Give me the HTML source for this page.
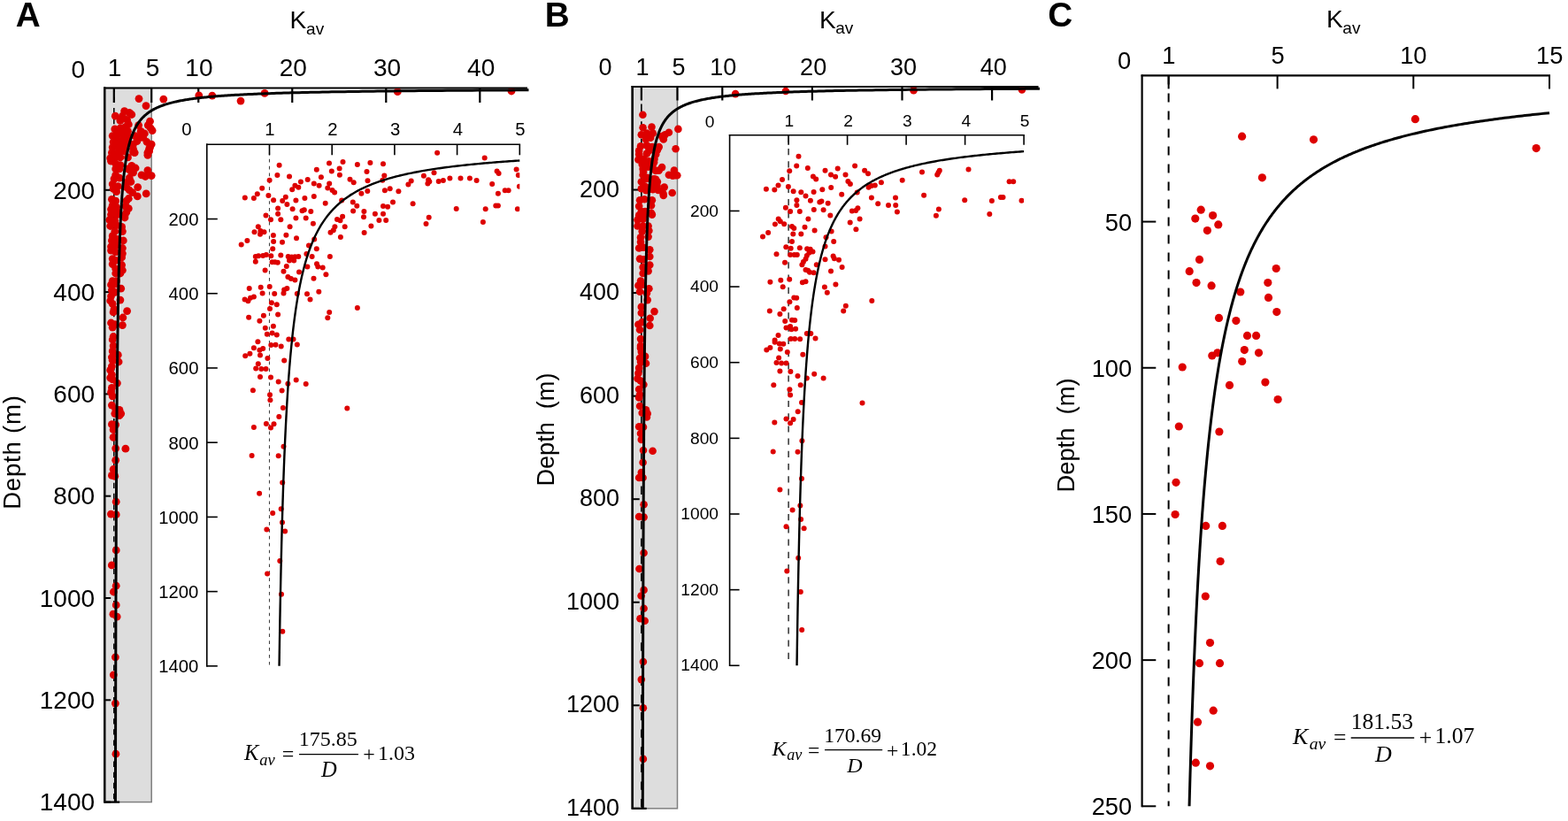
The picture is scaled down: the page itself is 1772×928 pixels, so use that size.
<!DOCTYPE html>
<html><head><meta charset="utf-8"><title>Kav vs depth</title>
<style>html,body{margin:0;padding:0;background:#fff;} svg{display:block;}</style>
</head><body>
<svg width="1772" height="928" viewBox="0 0 1772 928">
<rect width="1772" height="928" fill="#fff"/>
<rect x="118.2" y="99.5" width="53.02" height="807.1" fill="#dddddd" stroke="#7f7f7f" stroke-width="1.5"/>
<line x1="128.8" y1="99.5" x2="128.8" y2="906.6" stroke="#000" stroke-width="1.5" stroke-dasharray="6.3,5.81" stroke-dashoffset="1.82"/>
<line x1="128.8" y1="99.5" x2="128.8" y2="116" stroke="#000" stroke-width="2.2" />
<line x1="171.22" y1="99.5" x2="171.22" y2="116" stroke="#000" stroke-width="2.2" />
<line x1="224.23" y1="99.5" x2="224.23" y2="116" stroke="#000" stroke-width="2.2" />
<line x1="330.26" y1="99.5" x2="330.26" y2="116" stroke="#000" stroke-width="2.2" />
<line x1="436.29" y1="99.5" x2="436.29" y2="116" stroke="#000" stroke-width="2.2" />
<line x1="542.32" y1="99.5" x2="542.32" y2="116" stroke="#000" stroke-width="2.2" />
<line x1="118.2" y1="214.8" x2="125.2" y2="214.8" stroke="#000" stroke-width="2" />
<line x1="118.2" y1="330.1" x2="125.2" y2="330.1" stroke="#000" stroke-width="2" />
<line x1="118.2" y1="445.4" x2="125.2" y2="445.4" stroke="#000" stroke-width="2" />
<line x1="118.2" y1="560.7" x2="125.2" y2="560.7" stroke="#000" stroke-width="2" />
<line x1="118.2" y1="676" x2="125.2" y2="676" stroke="#000" stroke-width="2" />
<line x1="118.2" y1="791.3" x2="125.2" y2="791.3" stroke="#000" stroke-width="2" />
<line x1="118.2" y1="906.6" x2="125.2" y2="906.6" stroke="#000" stroke-width="2" />
<line x1="117.2" y1="99.5" x2="596" y2="99.5" stroke="#000" stroke-width="2.2" />
<line x1="118.2" y1="98.5" x2="118.2" y2="907.6" stroke="#000" stroke-width="2.2" />
<line x1="118.2" y1="906.6" x2="135.2" y2="906.6" stroke="#000" stroke-width="2.2" />
<rect x="714.7" y="98" width="50.8" height="815.85" fill="#dddddd" stroke="#7f7f7f" stroke-width="1.5"/>
<line x1="724.86" y1="98" x2="724.86" y2="913.85" stroke="#000" stroke-width="1.6" stroke-dasharray="9.3,10.34" stroke-dashoffset="0.14"/>
<line x1="724.86" y1="98" x2="724.86" y2="113.5" stroke="#000" stroke-width="2.2" />
<line x1="765.5" y1="98" x2="765.5" y2="113.5" stroke="#000" stroke-width="2.2" />
<line x1="816.3" y1="98" x2="816.3" y2="113.5" stroke="#000" stroke-width="2.2" />
<line x1="917.9" y1="98" x2="917.9" y2="113.5" stroke="#000" stroke-width="2.2" />
<line x1="1019.5" y1="98" x2="1019.5" y2="113.5" stroke="#000" stroke-width="2.2" />
<line x1="1121.1" y1="98" x2="1121.1" y2="113.5" stroke="#000" stroke-width="2.2" />
<line x1="714.7" y1="214.55" x2="722.7" y2="214.55" stroke="#000" stroke-width="2" />
<line x1="714.7" y1="331.1" x2="722.7" y2="331.1" stroke="#000" stroke-width="2" />
<line x1="714.7" y1="447.65" x2="722.7" y2="447.65" stroke="#000" stroke-width="2" />
<line x1="714.7" y1="564.2" x2="722.7" y2="564.2" stroke="#000" stroke-width="2" />
<line x1="714.7" y1="680.75" x2="722.7" y2="680.75" stroke="#000" stroke-width="2" />
<line x1="714.7" y1="797.3" x2="722.7" y2="797.3" stroke="#000" stroke-width="2" />
<line x1="714.7" y1="913.85" x2="722.7" y2="913.85" stroke="#000" stroke-width="2" />
<line x1="713.7" y1="98" x2="1173.5" y2="98" stroke="#000" stroke-width="2.2" />
<line x1="714.7" y1="97" x2="714.7" y2="914.85" stroke="#000" stroke-width="2.2" />
<line x1="714.7" y1="913.85" x2="730.7" y2="913.85" stroke="#000" stroke-width="2.2" />
<defs><clipPath id="ca"><rect x="118" y="100.3" width="480" height="807"/></clipPath><clipPath id="cb"><rect x="714" y="98.8" width="460" height="815"/></clipPath></defs>
<g fill="#dd0000" clip-path="url(#ca)">
<circle cx="184.8" cy="112.1" r="4.4"/>
<circle cx="224.8" cy="107.9" r="4.4"/>
<circle cx="239.8" cy="108.1" r="4.4"/>
<circle cx="272" cy="114.1" r="4.4"/>
<circle cx="299.1" cy="105.4" r="4.4"/>
<circle cx="165" cy="119.6" r="4.4"/>
<circle cx="449.3" cy="103.7" r="4.4"/>
<circle cx="578" cy="103" r="4.4"/>
<circle cx="157" cy="111.6" r="4.4"/>
<circle cx="130.3" cy="131.2" r="4.4"/>
<circle cx="140.6" cy="125.6" r="4.4"/>
<circle cx="146.2" cy="127.3" r="4.4"/>
<circle cx="148.8" cy="129.5" r="4.4"/>
<circle cx="138.4" cy="131.2" r="4.4"/>
<circle cx="135.9" cy="136.4" r="4.4"/>
<circle cx="143.6" cy="135.5" r="4.4"/>
<circle cx="145.3" cy="140.7" r="4.4"/>
<circle cx="129.8" cy="145.9" r="4.4"/>
<circle cx="135.9" cy="145" r="4.4"/>
<circle cx="141.9" cy="143.3" r="4.4"/>
<circle cx="127.2" cy="153.6" r="4.4"/>
<circle cx="133.3" cy="151.9" r="4.4"/>
<circle cx="139.3" cy="150.2" r="4.4"/>
<circle cx="144.5" cy="148.4" r="4.4"/>
<circle cx="133.3" cy="158.8" r="4.4"/>
<circle cx="139.3" cy="157.1" r="4.4"/>
<circle cx="128.1" cy="160.5" r="4.4"/>
<circle cx="127.2" cy="166.6" r="4.4"/>
<circle cx="133.3" cy="165.7" r="4.4"/>
<circle cx="139.3" cy="164" r="4.4"/>
<circle cx="143.6" cy="161.4" r="4.4"/>
<circle cx="126.4" cy="172.6" r="4.4"/>
<circle cx="133.3" cy="172.6" r="4.4"/>
<circle cx="140.2" cy="170.9" r="4.4"/>
<circle cx="156.6" cy="141.6" r="4.4"/>
<circle cx="159.1" cy="148.4" r="4.4"/>
<circle cx="163.4" cy="151" r="4.4"/>
<circle cx="161.7" cy="155.3" r="4.4"/>
<circle cx="169.5" cy="137.2" r="4.4"/>
<circle cx="167.3" cy="141.6" r="4.4"/>
<circle cx="172.1" cy="147.6" r="4.4"/>
<circle cx="170.3" cy="145" r="4.4"/>
<circle cx="158.3" cy="155.3" r="4.4"/>
<circle cx="154.8" cy="159.7" r="4.4"/>
<circle cx="150.5" cy="163.1" r="4.4"/>
<circle cx="150.5" cy="168.3" r="4.4"/>
<circle cx="152.2" cy="172.6" r="4.4"/>
<circle cx="166" cy="160.5" r="4.4"/>
<circle cx="171.2" cy="163.1" r="4.4"/>
<circle cx="168.6" cy="168.3" r="4.4"/>
<circle cx="166.9" cy="172.6" r="4.4"/>
<circle cx="134.1" cy="167.6" r="4.4"/>
<circle cx="140.2" cy="167.6" r="4.4"/>
<circle cx="150.5" cy="171.9" r="4.4"/>
<circle cx="169.5" cy="166.7" r="4.4"/>
<circle cx="168.6" cy="171" r="4.4"/>
<circle cx="166.9" cy="175.3" r="4.4"/>
<circle cx="124.7" cy="178.8" r="4.4"/>
<circle cx="129.8" cy="177.9" r="4.4"/>
<circle cx="135.9" cy="177.9" r="4.4"/>
<circle cx="144.5" cy="177.9" r="4.4"/>
<circle cx="125.5" cy="182.2" r="4.4"/>
<circle cx="130.7" cy="184.8" r="4.4"/>
<circle cx="135.9" cy="186.6" r="4.4"/>
<circle cx="130.7" cy="190.9" r="4.4"/>
<circle cx="135" cy="190.9" r="4.4"/>
<circle cx="148.8" cy="187.4" r="4.4"/>
<circle cx="153.1" cy="190" r="4.4"/>
<circle cx="147.9" cy="193.4" r="4.4"/>
<circle cx="144.5" cy="190.9" r="4.4"/>
<circle cx="150.5" cy="195.2" r="4.4"/>
<circle cx="160" cy="197.8" r="4.4"/>
<circle cx="166.9" cy="192.6" r="4.4"/>
<circle cx="171.2" cy="198.6" r="4.4"/>
<circle cx="164.3" cy="199.5" r="4.4"/>
<circle cx="130.7" cy="197.8" r="4.4"/>
<circle cx="129" cy="202.1" r="4.4"/>
<circle cx="135" cy="201.2" r="4.4"/>
<circle cx="146.2" cy="201.2" r="4.4"/>
<circle cx="147.9" cy="205.5" r="4.4"/>
<circle cx="142.8" cy="206.4" r="4.4"/>
<circle cx="127.2" cy="208.1" r="4.4"/>
<circle cx="128.1" cy="213.3" r="4.4"/>
<circle cx="133.3" cy="210.7" r="4.4"/>
<circle cx="131.6" cy="216.7" r="4.4"/>
<circle cx="142.8" cy="211.6" r="4.4"/>
<circle cx="146.2" cy="215" r="4.4"/>
<circle cx="149.7" cy="217.6" r="4.4"/>
<circle cx="155.7" cy="211.6" r="4.4"/>
<circle cx="165.2" cy="218.9" r="4.4"/>
<circle cx="155.3" cy="221.9" r="4.4"/>
<circle cx="145.3" cy="224.5" r="4.4"/>
<circle cx="142.8" cy="227.1" r="4.4"/>
<circle cx="126.4" cy="225.3" r="4.4"/>
<circle cx="130.7" cy="227.1" r="4.4"/>
<circle cx="127.2" cy="232.2" r="4.4"/>
<circle cx="125.5" cy="236.6" r="4.4"/>
<circle cx="131.6" cy="234" r="4.4"/>
<circle cx="132.4" cy="239.1" r="4.4"/>
<circle cx="141.9" cy="233.1" r="4.4"/>
<circle cx="145.3" cy="235.7" r="4.4"/>
<circle cx="142.8" cy="240" r="4.4"/>
<circle cx="125.5" cy="242.6" r="4.4"/>
<circle cx="141" cy="243.4" r="4.4"/>
<circle cx="132.4" cy="242.6" r="4.4"/>
<circle cx="141" cy="246" r="4.4"/>
<circle cx="123.8" cy="248.6" r="4.4"/>
<circle cx="129.8" cy="249.5" r="4.4"/>
<circle cx="124.7" cy="255.5" r="4.4"/>
<circle cx="131.6" cy="254.7" r="4.4"/>
<circle cx="137.6" cy="256.4" r="4.4"/>
<circle cx="138.4" cy="261.6" r="4.4"/>
<circle cx="129.8" cy="261.6" r="4.4"/>
<circle cx="127.2" cy="266.7" r="4.4"/>
<circle cx="126.4" cy="271.9" r="4.4"/>
<circle cx="131.6" cy="270.2" r="4.4"/>
<circle cx="139.3" cy="271.9" r="4.4"/>
<circle cx="125.5" cy="278.8" r="4.4"/>
<circle cx="131.6" cy="277.1" r="4.4"/>
<circle cx="138.4" cy="280.5" r="4.4"/>
<circle cx="125.5" cy="283.1" r="4.4"/>
<circle cx="130.7" cy="284.8" r="4.4"/>
<circle cx="138.4" cy="286.6" r="4.4"/>
<circle cx="137.6" cy="290.9" r="4.4"/>
<circle cx="127.2" cy="292.6" r="4.4"/>
<circle cx="130.7" cy="294.3" r="4.4"/>
<circle cx="127.2" cy="298.6" r="4.4"/>
<circle cx="137.6" cy="299.5" r="4.4"/>
<circle cx="138.4" cy="305.5" r="4.4"/>
<circle cx="130.7" cy="303.8" r="4.4"/>
<circle cx="130.7" cy="309" r="4.4"/>
<circle cx="135.9" cy="309" r="4.4"/>
<circle cx="127.2" cy="317.6" r="4.4"/>
<circle cx="131.6" cy="317.6" r="4.4"/>
<circle cx="125.5" cy="321.9" r="4.4"/>
<circle cx="130.7" cy="321" r="4.4"/>
<circle cx="136.7" cy="326.2" r="4.4"/>
<circle cx="126.4" cy="327.9" r="4.4"/>
<circle cx="129.8" cy="330.5" r="4.4"/>
<circle cx="125.5" cy="334.8" r="4.4"/>
<circle cx="124.7" cy="340" r="4.4"/>
<circle cx="135.9" cy="339.1" r="4.4"/>
<circle cx="127.2" cy="343.4" r="4.4"/>
<circle cx="129" cy="349.5" r="4.4"/>
<circle cx="128.1" cy="352.9" r="4.4"/>
<circle cx="143.6" cy="351.6" r="4.4"/>
<circle cx="138.9" cy="359" r="4.4"/>
<circle cx="138.4" cy="367.6" r="4.4"/>
<circle cx="125.5" cy="365" r="4.4"/>
<circle cx="127.2" cy="370.2" r="4.4"/>
<circle cx="129.8" cy="366.7" r="4.4"/>
<circle cx="128.1" cy="380.5" r="4.4"/>
<circle cx="127.2" cy="384" r="4.4"/>
<circle cx="128.1" cy="390.9" r="4.4"/>
<circle cx="127.2" cy="396.9" r="4.4"/>
<circle cx="133.3" cy="401.2" r="4.4"/>
<circle cx="126.4" cy="403.8" r="4.4"/>
<circle cx="134.1" cy="409" r="4.4"/>
<circle cx="127.2" cy="407.2" r="4.4"/>
<circle cx="126.4" cy="414.1" r="4.4"/>
<circle cx="124.7" cy="418.4" r="4.4"/>
<circle cx="126.4" cy="423.6" r="4.4"/>
<circle cx="124.7" cy="427.1" r="4.4"/>
<circle cx="127.2" cy="428.8" r="4.4"/>
<circle cx="132.4" cy="433.1" r="4.4"/>
<circle cx="126.4" cy="438.3" r="4.4"/>
<circle cx="125.5" cy="443.4" r="4.4"/>
<circle cx="127.2" cy="447.8" r="4.4"/>
<circle cx="126.4" cy="458.1" r="4.4"/>
<circle cx="130.7" cy="462.4" r="4.4"/>
<circle cx="135" cy="463.3" r="4.4"/>
<circle cx="136.7" cy="467.6" r="4.4"/>
<circle cx="129.8" cy="467.6" r="4.4"/>
<circle cx="135" cy="469.7" r="4.4"/>
<circle cx="126.4" cy="479.7" r="4.4"/>
<circle cx="130.7" cy="480.1" r="4.4"/>
<circle cx="128.1" cy="485.7" r="4.4"/>
<circle cx="128.1" cy="494.3" r="4.4"/>
<circle cx="130.7" cy="506.8" r="4.4"/>
<circle cx="141.9" cy="507.2" r="4.4"/>
<circle cx="130.7" cy="520.2" r="4.4"/>
<circle cx="128.1" cy="530.5" r="4.4"/>
<circle cx="126.4" cy="537.4" r="4.4"/>
<circle cx="129.8" cy="538.3" r="4.4"/>
<circle cx="131.2" cy="567.2" r="4.4"/>
<circle cx="125.4" cy="581.1" r="4.4"/>
<circle cx="131.2" cy="581.7" r="4.4"/>
<circle cx="131.2" cy="621.9" r="4.4"/>
<circle cx="126.3" cy="638.9" r="4.4"/>
<circle cx="131.2" cy="662.2" r="4.4"/>
<circle cx="128.3" cy="669" r="4.4"/>
<circle cx="131.2" cy="683.9" r="4.4"/>
<circle cx="127.9" cy="694.2" r="4.4"/>
<circle cx="132.2" cy="697.1" r="4.4"/>
<circle cx="130.4" cy="742.8" r="4.4"/>
<circle cx="128.3" cy="762.8" r="4.4"/>
<circle cx="130.4" cy="795.1" r="4.4"/>
<circle cx="130.9" cy="852.2" r="4.4"/>
<circle cx="144.5" cy="153.9" r="4.4"/>
<circle cx="152.6" cy="153.6" r="4.4"/>
</g>
<g fill="#dd0000" clip-path="url(#cb)">
<circle cx="831.1" cy="106.1" r="4.3"/>
<circle cx="887.9" cy="103" r="4.3"/>
<circle cx="1032.5" cy="102.3" r="4.3"/>
<circle cx="1154.9" cy="101.4" r="4.3"/>
<circle cx="726.4" cy="129.8" r="4.3"/>
<circle cx="726.6" cy="144.2" r="4.3"/>
<circle cx="736.5" cy="143.6" r="4.3"/>
<circle cx="724.8" cy="152.3" r="4.3"/>
<circle cx="730.9" cy="150.6" r="4.3"/>
<circle cx="737.8" cy="150.6" r="4.3"/>
<circle cx="730" cy="157.5" r="4.3"/>
<circle cx="735.2" cy="155.8" r="4.3"/>
<circle cx="749.8" cy="157.5" r="4.3"/>
<circle cx="751.6" cy="152.3" r="4.3"/>
<circle cx="755.9" cy="149.8" r="4.3"/>
<circle cx="748.1" cy="154.1" r="4.3"/>
<circle cx="766.4" cy="145.9" r="4.3"/>
<circle cx="724" cy="165.3" r="4.3"/>
<circle cx="730.9" cy="164.4" r="4.3"/>
<circle cx="736.9" cy="166.1" r="4.3"/>
<circle cx="744.7" cy="166.1" r="4.3"/>
<circle cx="742.9" cy="169.6" r="4.3"/>
<circle cx="763.6" cy="168.3" r="4.3"/>
<circle cx="722.2" cy="170.4" r="4.3"/>
<circle cx="733.4" cy="170.4" r="4.3"/>
<circle cx="733.4" cy="166.7" r="4.3"/>
<circle cx="722.2" cy="174.5" r="4.3"/>
<circle cx="730.9" cy="173.6" r="4.3"/>
<circle cx="741.2" cy="174.5" r="4.3"/>
<circle cx="721.4" cy="180.5" r="4.3"/>
<circle cx="727.4" cy="179.7" r="4.3"/>
<circle cx="739.5" cy="179.7" r="4.3"/>
<circle cx="725.7" cy="185.7" r="4.3"/>
<circle cx="737.8" cy="185.7" r="4.3"/>
<circle cx="726.6" cy="190.9" r="4.3"/>
<circle cx="744.7" cy="192.6" r="4.3"/>
<circle cx="748.1" cy="189.1" r="4.3"/>
<circle cx="755.9" cy="197.8" r="4.3"/>
<circle cx="761.9" cy="192.6" r="4.3"/>
<circle cx="765.3" cy="198.2" r="4.3"/>
<circle cx="760.2" cy="198.6" r="4.3"/>
<circle cx="726.6" cy="197.8" r="4.3"/>
<circle cx="724.8" cy="205.5" r="4.3"/>
<circle cx="730" cy="202.1" r="4.3"/>
<circle cx="741.2" cy="202.9" r="4.3"/>
<circle cx="742.9" cy="205.5" r="4.3"/>
<circle cx="724.8" cy="213.3" r="4.3"/>
<circle cx="730" cy="211.6" r="4.3"/>
<circle cx="737.8" cy="214.1" r="4.3"/>
<circle cx="743.8" cy="215" r="4.3"/>
<circle cx="750.7" cy="211.6" r="4.3"/>
<circle cx="749.8" cy="221" r="4.3"/>
<circle cx="759.7" cy="218" r="4.3"/>
<circle cx="723.1" cy="226.2" r="4.3"/>
<circle cx="728.3" cy="225.3" r="4.3"/>
<circle cx="736.9" cy="226.2" r="4.3"/>
<circle cx="736" cy="232.2" r="4.3"/>
<circle cx="722.2" cy="233.1" r="4.3"/>
<circle cx="724.8" cy="239.1" r="4.3"/>
<circle cx="729.1" cy="239.1" r="4.3"/>
<circle cx="736" cy="240.9" r="4.3"/>
<circle cx="722.2" cy="243.4" r="4.3"/>
<circle cx="729.1" cy="242.6" r="4.3"/>
<circle cx="736.9" cy="242.6" r="4.3"/>
<circle cx="720.5" cy="248.6" r="4.3"/>
<circle cx="726.6" cy="247.8" r="4.3"/>
<circle cx="720.5" cy="255.5" r="4.3"/>
<circle cx="726.6" cy="255.5" r="4.3"/>
<circle cx="732.6" cy="255.5" r="4.3"/>
<circle cx="733.4" cy="260.7" r="4.3"/>
<circle cx="725.7" cy="261.6" r="4.3"/>
<circle cx="724" cy="268.4" r="4.3"/>
<circle cx="732.6" cy="267.6" r="4.3"/>
<circle cx="724" cy="273.6" r="4.3"/>
<circle cx="722.2" cy="280.5" r="4.3"/>
<circle cx="727.4" cy="279.7" r="4.3"/>
<circle cx="734.3" cy="282.2" r="4.3"/>
<circle cx="734.3" cy="290" r="4.3"/>
<circle cx="723.1" cy="292.6" r="4.3"/>
<circle cx="727.4" cy="293.4" r="4.3"/>
<circle cx="734.3" cy="299.5" r="4.3"/>
<circle cx="726.6" cy="302.1" r="4.3"/>
<circle cx="732.6" cy="306.4" r="4.3"/>
<circle cx="726.6" cy="309" r="4.3"/>
<circle cx="724" cy="317.6" r="4.3"/>
<circle cx="721.4" cy="322.8" r="4.3"/>
<circle cx="725.7" cy="321.9" r="4.3"/>
<circle cx="733.4" cy="326.2" r="4.3"/>
<circle cx="723.1" cy="329.7" r="4.3"/>
<circle cx="730.9" cy="331.4" r="4.3"/>
<circle cx="731.7" cy="339.1" r="4.3"/>
<circle cx="724.8" cy="346.9" r="4.3"/>
<circle cx="724.8" cy="353.8" r="4.3"/>
<circle cx="739.5" cy="352.1" r="4.3"/>
<circle cx="734.7" cy="359.8" r="4.3"/>
<circle cx="734.3" cy="368" r="4.3"/>
<circle cx="721.4" cy="366.7" r="4.3"/>
<circle cx="725.7" cy="364.1" r="4.3"/>
<circle cx="723.1" cy="372.8" r="4.3"/>
<circle cx="724" cy="383.1" r="4.3"/>
<circle cx="724" cy="390.9" r="4.3"/>
<circle cx="724" cy="393.4" r="4.3"/>
<circle cx="724.8" cy="397.8" r="4.3"/>
<circle cx="729.1" cy="402.9" r="4.3"/>
<circle cx="723.1" cy="404.7" r="4.3"/>
<circle cx="730" cy="410.7" r="4.3"/>
<circle cx="724" cy="409" r="4.3"/>
<circle cx="722.2" cy="415.9" r="4.3"/>
<circle cx="721.4" cy="421.9" r="4.3"/>
<circle cx="720.5" cy="427.9" r="4.3"/>
<circle cx="724" cy="430.5" r="4.3"/>
<circle cx="727.4" cy="434.8" r="4.3"/>
<circle cx="722.2" cy="440" r="4.3"/>
<circle cx="723.1" cy="446" r="4.3"/>
<circle cx="722.2" cy="449.5" r="4.3"/>
<circle cx="723.1" cy="459" r="4.3"/>
<circle cx="730" cy="463.3" r="4.3"/>
<circle cx="725.7" cy="466.7" r="4.3"/>
<circle cx="731.7" cy="467.6" r="4.3"/>
<circle cx="730.9" cy="471.5" r="4.3"/>
<circle cx="722.2" cy="482.2" r="4.3"/>
<circle cx="727" cy="482.7" r="4.3"/>
<circle cx="724" cy="490" r="4.3"/>
<circle cx="724.8" cy="496.9" r="4.3"/>
<circle cx="727" cy="509" r="4.3"/>
<circle cx="737.6" cy="509.7" r="4.3"/>
<circle cx="726.6" cy="522.8" r="4.3"/>
<circle cx="724.8" cy="534" r="4.3"/>
<circle cx="722.2" cy="540" r="4.3"/>
<circle cx="726.6" cy="540" r="4.3"/>
<circle cx="727.6" cy="570.3" r="4.3"/>
<circle cx="722.1" cy="584" r="4.3"/>
<circle cx="727.6" cy="584.6" r="4.3"/>
<circle cx="727.6" cy="625" r="4.3"/>
<circle cx="722.5" cy="643" r="4.3"/>
<circle cx="727.6" cy="666.9" r="4.3"/>
<circle cx="724.6" cy="673.5" r="4.3"/>
<circle cx="727.6" cy="687.8" r="4.3"/>
<circle cx="723.5" cy="699.3" r="4.3"/>
<circle cx="728.7" cy="701.7" r="4.3"/>
<circle cx="726.9" cy="748" r="4.3"/>
<circle cx="724.8" cy="768.1" r="4.3"/>
<circle cx="726.9" cy="800.2" r="4.3"/>
<circle cx="726.9" cy="857.9" r="4.3"/>
<circle cx="727.9" cy="182.2" r="4.3"/>
<circle cx="733.1" cy="182.2" r="4.3"/>
<circle cx="739.1" cy="183.4" r="4.3"/>
<circle cx="727.9" cy="188.6" r="4.3"/>
<circle cx="732.2" cy="188.6" r="4.3"/>
<circle cx="737.4" cy="189.5" r="4.3"/>
<circle cx="727.1" cy="194.2" r="4.3"/>
<circle cx="740.9" cy="192.9" r="4.3"/>
<circle cx="731.4" cy="200.7" r="4.3"/>
<circle cx="739.1" cy="202.4" r="4.3"/>
<circle cx="727.9" cy="210.2" r="4.3"/>
<circle cx="737.4" cy="208" r="4.3"/>
<circle cx="742.6" cy="210.2" r="4.3"/>
<circle cx="730.1" cy="215.3" r="4.3"/>
<circle cx="749.5" cy="218.8" r="4.3"/>
<circle cx="763.3" cy="198.1" r="4.3"/>
</g>
<line x1="118.2" y1="98.5" x2="118.2" y2="907.6" stroke="#000" stroke-width="2.2" />
<line x1="714.7" y1="97" x2="714.7" y2="914.85" stroke="#000" stroke-width="2.2" />
<path d="M597.46,101.8 L590.64,101.83 L583.93,101.86 L577.31,101.9 L570.79,101.93 L564.36,101.97 L558.03,102.01 L551.79,102.04 L545.64,102.08 L539.58,102.12 L533.61,102.16 L527.72,102.2 L521.92,102.24 L516.21,102.28 L510.58,102.32 L505.03,102.36 L499.56,102.4 L494.17,102.44 L488.85,102.49 L483.62,102.53 L478.46,102.58 L473.38,102.62 L468.37,102.67 L463.44,102.72 L458.57,102.76 L453.78,102.81 L449.05,102.86 L444.4,102.91 L439.81,102.96 L435.29,103.01 L430.84,103.06 L426.45,103.12 L422.12,103.17 L417.86,103.22 L413.66,103.28 L409.52,103.33 L405.44,103.39 L401.42,103.45 L397.45,103.51 L393.55,103.56 L389.7,103.63 L385.91,103.69 L382.18,103.75 L378.49,103.81 L374.87,103.87 L371.29,103.94 L367.77,104 L364.29,104.07 L360.87,104.14 L357.5,104.21 L354.18,104.28 L350.9,104.35 L347.68,104.42 L344.5,104.49 L341.36,104.56 L338.27,104.64 L335.23,104.72 L332.23,104.79 L329.28,104.87 L326.37,104.95 L323.5,105.03 L320.67,105.11 L317.88,105.19 L315.13,105.28 L312.43,105.36 L309.76,105.45 L307.13,105.54 L304.54,105.63 L301.99,105.72 L299.47,105.81 L297,105.9 L294.55,106 L292.15,106.09 L289.77,106.19 L287.44,106.29 L285.13,106.39 L282.86,106.49 L280.63,106.59 L278.42,106.7 L276.25,106.81 L274.11,106.91 L272,107.02 L269.92,107.13 L267.87,107.25 L265.85,107.36 L263.86,107.48 L261.9,107.6 L259.97,107.71 L258.07,107.84 L256.19,107.96 L254.34,108.08 L252.52,108.21 L250.73,108.34 L248.96,108.47 L247.21,108.6 L245.49,108.74 L243.8,108.87 L242.13,109.01 L240.49,109.15 L238.87,109.29 L237.27,109.44 L235.7,109.59 L234.15,109.73 L232.62,109.89 L231.11,110.04 L229.63,110.19 L228.17,110.35 L226.73,110.51 L225.31,110.68 L223.91,110.84 L222.53,111.01 L221.17,111.18 L219.83,111.35 L218.51,111.53 L217.21,111.7 L215.93,111.88 L214.66,112.07 L213.42,112.25 L212.19,112.44 L210.98,112.63 L209.79,112.82 L208.62,113.02 L207.46,113.22 L206.32,113.42 L205.2,113.63 L204.09,113.84 L203,114.05 L201.93,114.26 L200.87,114.48 L199.82,114.7 L198.79,114.93 L197.78,115.16 L196.78,115.39 L195.8,115.62 L194.83,115.86 L193.87,116.1 L192.93,116.35 L192,116.59 L191.09,116.85 L190.18,117.1 L189.3,117.36 L188.42,117.63 L187.56,117.89 L186.71,118.17 L185.87,118.44 L185.04,118.72 L184.23,119 L183.43,119.29 L182.64,119.59 L181.86,119.88 L181.09,120.18 L180.34,120.49 L179.59,120.8 L178.86,121.11 L178.13,121.43 L177.42,121.76 L176.72,122.08 L176.02,122.42 L175.34,122.76 L174.67,123.1 L174.01,123.45 L173.35,123.8 L172.71,124.16 L172.08,124.52 L171.45,124.89 L170.84,125.27 L170.23,125.65 L169.63,126.03 L169.04,126.43 L168.46,126.82 L167.89,127.23 L167.32,127.64 L166.77,128.05 L166.22,128.47 L165.68,128.9 L165.15,129.34 L164.62,129.78 L164.11,130.22 L163.6,130.68 L163.1,131.14 L162.6,131.6 L162.12,132.08 L161.64,132.56 L161.16,133.05 L160.7,133.54 L160.24,134.05 L159.78,134.56 L159.34,135.07 L158.9,135.6 L158.46,136.13 L158.04,136.67 L157.62,137.22 L157.2,137.78 L156.79,138.34 L156.39,138.92 L155.99,139.5 L155.6,140.09 L155.22,140.69 L154.84,141.3 L154.46,141.91 L154.1,142.54 L153.73,143.18 L153.37,143.82 L153.02,144.47 L152.67,145.14 L152.33,145.81 L151.99,146.5 L151.66,147.19 L151.33,147.89 L151.01,148.61 L150.69,149.33 L150.38,150.07 L150.07,150.82 L149.76,151.57 L149.46,152.34 L149.17,153.12 L148.88,153.91 L148.59,154.72 L148.3,155.53 L148.03,156.36 L147.75,157.2 L147.48,158.05 L147.21,158.92 L146.95,159.79 L146.69,160.68 L146.43,161.59 L146.18,162.5 L145.93,163.43 L145.69,164.38 L145.45,165.34 L145.21,166.31 L144.98,167.29 L144.75,168.3 L144.52,169.31 L144.29,170.34 L144.07,171.39 L143.86,172.45 L143.64,173.53 L143.43,174.62 L143.22,175.73 L143.02,176.85 L142.81,178 L142.62,179.15 L142.42,180.33 L142.23,181.52 L142.04,182.74 L141.85,183.96 L141.66,185.21 L141.48,186.48 L141.3,187.76 L141.12,189.06 L140.95,190.39 L140.78,191.73 L140.61,193.09 L140.44,194.47 L140.27,195.87 L140.11,197.3 L139.95,198.74 L139.79,200.21 L139.64,201.69 L139.49,203.2 L139.34,204.73 L139.19,206.29 L139.04,207.86 L138.9,209.46 L138.75,211.09 L138.61,212.73 L138.48,214.41 L138.34,216.1 L138.21,217.82 L138.07,219.57 L137.94,221.34 L137.81,223.14 L137.69,224.97 L137.56,226.82 L137.44,228.7 L137.32,230.61 L137.2,232.54 L137.08,234.51 L136.97,236.5 L136.85,238.53 L136.74,240.58 L136.63,242.66 L136.52,244.77 L136.41,246.92 L136.31,249.1 L136.2,251.3 L136.1,253.55 L136,255.82 L135.9,258.13 L135.8,260.47 L135.7,262.85 L135.61,265.26 L135.51,267.71 L135.42,270.19 L135.33,272.71 L135.24,275.27 L135.15,277.86 L135.06,280.5 L134.97,283.17 L134.89,285.88 L134.8,288.63 L134.72,291.42 L134.64,294.26 L134.56,297.13 L134.48,300.05 L134.4,303.01 L134.33,306.02 L134.25,309.07 L134.18,312.16 L134.1,315.3 L134.03,318.49 L133.96,321.72 L133.89,325 L133.82,328.33 L133.75,331.71 L133.68,335.14 L133.62,338.62 L133.55,342.15 L133.49,345.73 L133.42,349.36 L133.36,353.05 L133.3,356.8 L133.24,360.6 L133.18,364.45 L133.12,368.36 L133.06,372.33 L133,376.36 L132.95,380.45 L132.89,384.6 L132.84,388.81 L132.78,393.08 L132.73,397.41 L132.68,401.81 L132.62,406.27 L132.57,410.8 L132.52,415.4 L132.47,420.06 L132.43,424.8 L132.38,429.6 L132.33,434.47 L132.28,439.42 L132.24,444.44 L132.19,449.53 L132.15,454.7 L132.1,459.94 L132.06,465.26 L132.02,470.67 L131.97,476.15 L131.93,481.71 L131.89,487.35 L131.85,493.08 L131.81,498.89 L131.77,504.78 L131.73,510.77 L131.7,516.84 L131.66,523 L131.62,529.25 L131.59,535.6 L131.55,542.04 L131.51,548.57 L131.48,555.2 L131.45,561.93 L131.41,568.76 L131.38,575.69 L131.35,582.72 L131.31,589.85 L131.28,597.09 L131.25,604.44 L131.22,611.89 L131.19,619.46 L131.16,627.14 L131.13,634.93 L131.1,642.83 L131.07,650.85 L131.04,658.99 L131.01,667.25 L130.99,675.64 L130.96,684.14 L130.93,692.78 L130.91,701.53 L130.88,710.42 L130.85,719.44 L130.83,728.6 L130.8,737.89 L130.78,747.31 L130.76,756.88 L130.73,766.58 L130.71,776.43 L130.69,786.42 L130.66,796.57 L130.64,806.86 L130.62,817.3 L130.6,827.9 L130.58,838.66 L130.55,849.57 L130.53,860.64 L130.51,871.88 L130.49,883.28 L130.47,894.86 L130.45,906.6" fill="none" stroke="#000" stroke-width="3.0" stroke-linejoin="round"/>
<path d="M1174.95,100.25 L1168.37,100.28 L1161.88,100.31 L1155.49,100.35 L1149.19,100.38 L1142.99,100.42 L1136.88,100.45 L1130.85,100.49 L1124.91,100.53 L1119.07,100.56 L1113.3,100.6 L1107.62,100.64 L1102.03,100.68 L1096.51,100.72 L1091.08,100.76 L1085.72,100.8 L1080.45,100.84 L1075.25,100.89 L1070.12,100.93 L1065.08,100.97 L1060.1,101.02 L1055.2,101.06 L1050.37,101.11 L1045.61,101.15 L1040.92,101.2 L1036.3,101.25 L1031.75,101.3 L1027.26,101.34 L1022.84,101.39 L1018.48,101.44 L1014.19,101.5 L1009.96,101.55 L1005.79,101.6 L1001.69,101.65 L997.64,101.71 L993.65,101.76 L989.72,101.82 L985.85,101.88 L982.04,101.93 L978.28,101.99 L974.57,102.05 L970.92,102.11 L967.33,102.17 L963.78,102.23 L960.29,102.3 L956.85,102.36 L953.46,102.42 L950.12,102.49 L946.82,102.56 L943.58,102.62 L940.38,102.69 L937.23,102.76 L934.13,102.83 L931.07,102.91 L928.06,102.98 L925.09,103.05 L922.16,103.13 L919.28,103.2 L916.44,103.28 L913.64,103.36 L910.88,103.44 L908.16,103.52 L905.48,103.6 L902.84,103.68 L900.24,103.77 L897.68,103.85 L895.15,103.94 L892.67,104.03 L890.21,104.12 L887.8,104.21 L885.42,104.3 L883.07,104.4 L880.76,104.49 L878.48,104.59 L876.24,104.69 L874.03,104.78 L871.85,104.89 L869.7,104.99 L867.58,105.09 L865.5,105.2 L863.44,105.3 L861.42,105.41 L859.42,105.52 L857.46,105.63 L855.52,105.75 L853.61,105.86 L851.73,105.98 L849.88,106.1 L848.05,106.22 L846.25,106.34 L844.48,106.46 L842.73,106.59 L841.01,106.72 L839.32,106.85 L837.65,106.98 L836,107.11 L834.38,107.25 L832.78,107.38 L831.2,107.52 L829.65,107.66 L828.12,107.81 L826.61,107.95 L825.13,108.1 L823.66,108.25 L822.22,108.4 L820.8,108.56 L819.4,108.71 L818.02,108.87 L816.66,109.03 L815.32,109.2 L814,109.36 L812.7,109.53 L811.41,109.7 L810.15,109.88 L808.91,110.05 L807.68,110.23 L806.47,110.41 L805.28,110.6 L804.11,110.79 L802.95,110.98 L801.81,111.17 L800.69,111.36 L799.58,111.56 L798.49,111.76 L797.42,111.97 L796.36,112.17 L795.32,112.39 L794.29,112.6 L793.28,112.82 L792.28,113.04 L791.29,113.26 L790.33,113.49 L789.37,113.72 L788.43,113.95 L787.5,114.19 L786.59,114.43 L785.69,114.67 L784.8,114.92 L783.93,115.17 L783.07,115.42 L782.22,115.68 L781.38,115.94 L780.56,116.21 L779.75,116.48 L778.95,116.76 L778.16,117.03 L777.38,117.32 L776.62,117.6 L775.86,117.89 L775.12,118.19 L774.39,118.49 L773.67,118.79 L772.95,119.1 L772.25,119.42 L771.56,119.73 L770.88,120.06 L770.21,120.38 L769.55,120.72 L768.9,121.05 L768.26,121.4 L767.63,121.74 L767.01,122.1 L766.39,122.45 L765.79,122.82 L765.19,123.18 L764.6,123.56 L764.03,123.94 L763.46,124.32 L762.89,124.71 L762.34,125.11 L761.8,125.51 L761.26,125.92 L760.73,126.34 L760.21,126.76 L759.69,127.18 L759.19,127.62 L758.69,128.06 L758.19,128.5 L757.71,128.96 L757.23,129.42 L756.76,129.88 L756.3,130.35 L755.84,130.84 L755.39,131.32 L754.95,131.82 L754.51,132.32 L754.08,132.83 L753.66,133.35 L753.24,133.87 L752.82,134.4 L752.42,134.94 L752.02,135.49 L751.62,136.05 L751.24,136.61 L750.85,137.19 L750.48,137.77 L750.1,138.36 L749.74,138.96 L749.38,139.57 L749.02,140.18 L748.67,140.81 L748.32,141.45 L747.98,142.09 L747.65,142.75 L747.32,143.41 L746.99,144.08 L746.67,144.77 L746.36,145.46 L746.04,146.17 L745.74,146.88 L745.44,147.61 L745.14,148.34 L744.84,149.09 L744.55,149.85 L744.27,150.62 L743.99,151.4 L743.71,152.19 L743.44,153 L743.17,153.82 L742.9,154.64 L742.64,155.48 L742.39,156.34 L742.13,157.2 L741.88,158.08 L741.64,158.98 L741.39,159.88 L741.16,160.8 L740.92,161.73 L740.69,162.68 L740.46,163.64 L740.23,164.61 L740.01,165.6 L739.79,166.61 L739.58,167.62 L739.37,168.66 L739.16,169.71 L738.95,170.77 L738.75,171.85 L738.55,172.95 L738.35,174.06 L738.16,175.19 L737.96,176.34 L737.78,177.5 L737.59,178.68 L737.41,179.88 L737.23,181.09 L737.05,182.33 L736.87,183.58 L736.7,184.85 L736.53,186.14 L736.36,187.45 L736.2,188.77 L736.03,190.12 L735.87,191.49 L735.71,192.88 L735.56,194.29 L735.41,195.72 L735.25,197.17 L735.11,198.64 L734.96,200.13 L734.81,201.65 L734.67,203.19 L734.53,204.75 L734.39,206.33 L734.26,207.94 L734.12,209.58 L733.99,211.23 L733.86,212.91 L733.73,214.62 L733.6,216.35 L733.48,218.11 L733.35,219.89 L733.23,221.7 L733.11,223.54 L733,225.4 L732.88,227.29 L732.77,229.21 L732.65,231.16 L732.54,233.14 L732.43,235.14 L732.32,237.18 L732.22,239.24 L732.11,241.34 L732.01,243.47 L731.91,245.63 L731.81,247.82 L731.71,250.05 L731.61,252.3 L731.52,254.59 L731.42,256.92 L731.33,259.28 L731.24,261.67 L731.15,264.1 L731.06,266.57 L730.97,269.07 L730.88,271.61 L730.8,274.19 L730.72,276.8 L730.63,279.46 L730.55,282.15 L730.47,284.89 L730.39,287.66 L730.31,290.48 L730.24,293.33 L730.16,296.23 L730.09,299.18 L730.01,302.16 L729.94,305.2 L729.87,308.27 L729.8,311.39 L729.73,314.56 L729.66,317.78 L729.59,321.04 L729.53,324.35 L729.46,327.71 L729.4,331.12 L729.33,334.58 L729.27,338.1 L729.21,341.66 L729.15,345.28 L729.09,348.95 L729.03,352.67 L728.97,356.46 L728.92,360.29 L728.86,364.19 L728.8,368.14 L728.75,372.15 L728.7,376.22 L728.64,380.35 L728.59,384.54 L728.54,388.8 L728.49,393.11 L728.44,397.49 L728.39,401.94 L728.34,406.45 L728.29,411.03 L728.24,415.68 L728.2,420.4 L728.15,425.18 L728.11,430.04 L728.06,434.97 L728.02,439.97 L727.98,445.05 L727.93,450.2 L727.89,455.43 L727.85,460.74 L727.81,466.12 L727.77,471.59 L727.73,477.13 L727.69,482.76 L727.65,488.48 L727.61,494.27 L727.58,500.16 L727.54,506.13 L727.5,512.19 L727.47,518.34 L727.43,524.58 L727.4,530.91 L727.36,537.34 L727.33,543.86 L727.3,550.48 L727.26,557.2 L727.23,564.01 L727.2,570.93 L727.17,577.95 L727.14,585.08 L727.11,592.31 L727.08,599.65 L727.05,607.1 L727.02,614.65 L726.99,622.33 L726.96,630.11 L726.93,638.01 L726.91,646.03 L726.88,654.16 L726.85,662.42 L726.83,670.8 L726.8,679.3 L726.78,687.93 L726.75,696.69 L726.73,705.58 L726.7,714.6 L726.68,723.76 L726.65,733.05 L726.63,742.47 L726.61,752.04 L726.59,761.75 L726.56,771.61 L726.54,781.61 L726.52,791.76 L726.5,802.06 L726.48,812.51 L726.46,823.12 L726.44,833.88 L726.42,844.81 L726.4,855.89 L726.38,867.15 L726.36,878.57 L726.34,890.15 L726.32,901.91 L726.3,913.85" fill="none" stroke="#000" stroke-width="3.0" stroke-linejoin="round"/>
<rect x="233.8" y="163.3" width="353.5" height="589.54" fill="#fff"/>
<rect x="824.6" y="152.8" width="332.5" height="599.48" fill="#fff"/>
<line x1="304.5" y1="163.3" x2="304.5" y2="752.84" stroke="#444" stroke-width="1.1" stroke-dasharray="3.7,4.19" stroke-dashoffset="7.17"/>
<line x1="304.5" y1="163.3" x2="304.5" y2="175.3" stroke="#000" stroke-width="1.6" />
<line x1="375.2" y1="163.3" x2="375.2" y2="175.3" stroke="#000" stroke-width="1.6" />
<line x1="445.9" y1="163.3" x2="445.9" y2="175.3" stroke="#000" stroke-width="1.6" />
<line x1="516.6" y1="163.3" x2="516.6" y2="175.3" stroke="#000" stroke-width="1.6" />
<line x1="587.3" y1="163.3" x2="587.3" y2="175.3" stroke="#000" stroke-width="1.6" />
<line x1="233.8" y1="247.52" x2="245.8" y2="247.52" stroke="#000" stroke-width="1.6" />
<line x1="233.8" y1="331.74" x2="245.8" y2="331.74" stroke="#000" stroke-width="1.6" />
<line x1="233.8" y1="415.96" x2="245.8" y2="415.96" stroke="#000" stroke-width="1.6" />
<line x1="233.8" y1="500.18" x2="245.8" y2="500.18" stroke="#000" stroke-width="1.6" />
<line x1="233.8" y1="584.4" x2="245.8" y2="584.4" stroke="#000" stroke-width="1.6" />
<line x1="233.8" y1="668.62" x2="245.8" y2="668.62" stroke="#000" stroke-width="1.6" />
<line x1="233.8" y1="752.84" x2="245.8" y2="752.84" stroke="#000" stroke-width="1.6" />
<line x1="233" y1="163.3" x2="588.1" y2="163.3" stroke="#000" stroke-width="1.6" />
<line x1="233.8" y1="162.5" x2="233.8" y2="753.64" stroke="#000" stroke-width="1.6" />
<text x="205.3" y="153.04" font-size="20.3" font-family="'Liberation Sans', Arial, sans-serif"  >0</text>
<text x="299.3" y="152.58" font-size="20.3" font-family="'Liberation Sans', Arial, sans-serif"  >1</text>
<text x="370.25" y="152.7" font-size="20.3" font-family="'Liberation Sans', Arial, sans-serif"  >2</text>
<text x="441.02" y="152.64" font-size="20.3" font-family="'Liberation Sans', Arial, sans-serif"  >3</text>
<text x="511.72" y="152.58" font-size="20.3" font-family="'Liberation Sans', Arial, sans-serif"  >4</text>
<text x="582.35" y="152.51" font-size="20.3" font-family="'Liberation Sans', Arial, sans-serif"  >5</text>
<text x="190.59" y="254.86" font-size="20.3" font-family="'Liberation Sans', Arial, sans-serif"  >200</text>
<text x="190.59" y="339.08" font-size="20.3" font-family="'Liberation Sans', Arial, sans-serif"  >400</text>
<text x="190.59" y="423.3" font-size="20.3" font-family="'Liberation Sans', Arial, sans-serif"  >600</text>
<text x="190.59" y="507.52" font-size="20.3" font-family="'Liberation Sans', Arial, sans-serif"  >800</text>
<text x="179.29" y="591.74" font-size="20.3" font-family="'Liberation Sans', Arial, sans-serif"  >1000</text>
<text x="179.29" y="675.96" font-size="20.3" font-family="'Liberation Sans', Arial, sans-serif"  >1200</text>
<text x="179.29" y="760.18" font-size="20.3" font-family="'Liberation Sans', Arial, sans-serif"  >1400</text>
<line x1="891.1" y1="152.8" x2="891.1" y2="745.4" stroke="#111" stroke-width="1.3" stroke-dasharray="7.2,7.04" stroke-dashoffset="13.18"/>
<line x1="891.1" y1="152.8" x2="891.1" y2="163.8" stroke="#000" stroke-width="1.6" />
<line x1="957.6" y1="152.8" x2="957.6" y2="163.8" stroke="#000" stroke-width="1.6" />
<line x1="1024.1" y1="152.8" x2="1024.1" y2="163.8" stroke="#000" stroke-width="1.6" />
<line x1="1090.6" y1="152.8" x2="1090.6" y2="163.8" stroke="#000" stroke-width="1.6" />
<line x1="1157.1" y1="152.8" x2="1157.1" y2="163.8" stroke="#000" stroke-width="1.6" />
<line x1="824.6" y1="238.44" x2="835.6" y2="238.44" stroke="#000" stroke-width="1.6" />
<line x1="824.6" y1="324.08" x2="835.6" y2="324.08" stroke="#000" stroke-width="1.6" />
<line x1="824.6" y1="409.72" x2="835.6" y2="409.72" stroke="#000" stroke-width="1.6" />
<line x1="824.6" y1="495.36" x2="835.6" y2="495.36" stroke="#000" stroke-width="1.6" />
<line x1="824.6" y1="581" x2="835.6" y2="581" stroke="#000" stroke-width="1.6" />
<line x1="824.6" y1="666.64" x2="835.6" y2="666.64" stroke="#000" stroke-width="1.6" />
<line x1="824.6" y1="752.28" x2="835.6" y2="752.28" stroke="#000" stroke-width="1.6" />
<line x1="823.8" y1="152.8" x2="1157.9" y2="152.8" stroke="#000" stroke-width="1.6" />
<line x1="824.6" y1="152" x2="824.6" y2="753.08" stroke="#000" stroke-width="1.6" />
<text x="796.86" y="144.26" font-size="19.2" font-family="'Liberation Sans', Arial, sans-serif"  >0</text>
<text x="886.62" y="142.7" font-size="19.2" font-family="'Liberation Sans', Arial, sans-serif"  >1</text>
<text x="953.36" y="142.82" font-size="19.2" font-family="'Liberation Sans', Arial, sans-serif"  >2</text>
<text x="1019.92" y="142.76" font-size="19.2" font-family="'Liberation Sans', Arial, sans-serif"  >3</text>
<text x="1086.42" y="142.7" font-size="19.2" font-family="'Liberation Sans', Arial, sans-serif"  >4</text>
<text x="1152.86" y="142.64" font-size="19.2" font-family="'Liberation Sans', Arial, sans-serif"  >5</text>
<text x="779.98" y="244.6" font-size="19.2" font-family="'Liberation Sans', Arial, sans-serif"  >200</text>
<text x="779.98" y="330.24" font-size="19.2" font-family="'Liberation Sans', Arial, sans-serif"  >400</text>
<text x="779.98" y="415.88" font-size="19.2" font-family="'Liberation Sans', Arial, sans-serif"  >600</text>
<text x="779.98" y="501.52" font-size="19.2" font-family="'Liberation Sans', Arial, sans-serif"  >800</text>
<text x="769.3" y="587.16" font-size="19.2" font-family="'Liberation Sans', Arial, sans-serif"  >1000</text>
<text x="769.3" y="672.8" font-size="19.2" font-family="'Liberation Sans', Arial, sans-serif"  >1200</text>
<text x="769.3" y="758.44" font-size="19.2" font-family="'Liberation Sans', Arial, sans-serif"  >1400</text>
<defs><clipPath id="cia"><rect x="233.8" y="163.3" width="353.5" height="589.54"/></clipPath><clipPath id="cib"><rect x="824.6" y="152.8" width="332.5" height="599.48"/></clipPath></defs>
<g fill="#dd0000" clip-path="url(#cia)">
<circle cx="315.6" cy="186.8" r="3.0"/>
<circle cx="372" cy="184.6" r="3.0"/>
<circle cx="387.5" cy="183" r="3.0"/>
<circle cx="403.9" cy="185.9" r="3.0"/>
<circle cx="357.8" cy="191.7" r="3.0"/>
<circle cx="374.8" cy="193.6" r="3.0"/>
<circle cx="383.6" cy="190.4" r="3.0"/>
<circle cx="313.4" cy="198.1" r="3.0"/>
<circle cx="327" cy="199.4" r="3.0"/>
<circle cx="383.9" cy="197.8" r="3.0"/>
<circle cx="362.9" cy="200.3" r="3.0"/>
<circle cx="304.6" cy="203.7" r="3.0"/>
<circle cx="347.7" cy="202.9" r="3.0"/>
<circle cx="339.9" cy="205.5" r="3.0"/>
<circle cx="395.5" cy="202.7" r="3.0"/>
<circle cx="399.7" cy="206.2" r="3.0"/>
<circle cx="354.8" cy="207.6" r="3.0"/>
<circle cx="360.6" cy="209.8" r="3.0"/>
<circle cx="372.2" cy="207.6" r="3.0"/>
<circle cx="333.4" cy="209.8" r="3.0"/>
<circle cx="337.3" cy="211.7" r="3.0"/>
<circle cx="330.2" cy="214.3" r="3.0"/>
<circle cx="370.3" cy="212.4" r="3.0"/>
<circle cx="375.5" cy="215" r="3.0"/>
<circle cx="378.1" cy="217.5" r="3.0"/>
<circle cx="296.2" cy="212.8" r="3.0"/>
<circle cx="290.8" cy="219.2" r="3.0"/>
<circle cx="286.9" cy="224" r="3.0"/>
<circle cx="276.8" cy="223.6" r="3.0"/>
<circle cx="303.4" cy="221" r="3.0"/>
<circle cx="309.1" cy="226.2" r="3.0"/>
<circle cx="322.8" cy="222.7" r="3.0"/>
<circle cx="319.2" cy="227" r="3.0"/>
<circle cx="324.4" cy="230.9" r="3.0"/>
<circle cx="334.4" cy="226.6" r="3.0"/>
<circle cx="344.4" cy="224" r="3.0"/>
<circle cx="354.8" cy="222.1" r="3.0"/>
<circle cx="367.7" cy="229.8" r="3.0"/>
<circle cx="386.2" cy="226.6" r="3.0"/>
<circle cx="398.8" cy="228.5" r="3.0"/>
<circle cx="403.3" cy="232.7" r="3.0"/>
<circle cx="314.1" cy="235.6" r="3.0"/>
<circle cx="314.1" cy="241.7" r="3.0"/>
<circle cx="330.6" cy="236.3" r="3.0"/>
<circle cx="341.5" cy="238.2" r="3.0"/>
<circle cx="343.8" cy="237.3" r="3.0"/>
<circle cx="351.3" cy="238.9" r="3.0"/>
<circle cx="300.5" cy="243.4" r="3.0"/>
<circle cx="306" cy="248.2" r="3.0"/>
<circle cx="317.3" cy="248.2" r="3.0"/>
<circle cx="334.4" cy="246.6" r="3.0"/>
<circle cx="345.7" cy="246.6" r="3.0"/>
<circle cx="399.1" cy="238.5" r="3.0"/>
<circle cx="381" cy="247.9" r="3.0"/>
<circle cx="384.5" cy="249.2" r="3.0"/>
<circle cx="387.1" cy="244.7" r="3.0"/>
<circle cx="353.9" cy="252.8" r="3.0"/>
<circle cx="327.6" cy="256.3" r="3.0"/>
<circle cx="291.8" cy="256.3" r="3.0"/>
<circle cx="287.5" cy="262.2" r="3.0"/>
<circle cx="294.4" cy="260.9" r="3.0"/>
<circle cx="298.5" cy="262.2" r="3.0"/>
<circle cx="294" cy="264.7" r="3.0"/>
<circle cx="378.4" cy="256.3" r="3.0"/>
<circle cx="376.8" cy="260.2" r="3.0"/>
<circle cx="373.5" cy="262.8" r="3.0"/>
<circle cx="389.7" cy="256.3" r="3.0"/>
<circle cx="308.9" cy="266" r="3.0"/>
<circle cx="323.4" cy="265.8" r="3.0"/>
<circle cx="335" cy="269.3" r="3.0"/>
<circle cx="384.9" cy="268" r="3.0"/>
<circle cx="309.1" cy="273.1" r="3.0"/>
<circle cx="319" cy="273.8" r="3.0"/>
<circle cx="279.4" cy="271.9" r="3.0"/>
<circle cx="272.7" cy="276.4" r="3.0"/>
<circle cx="355.2" cy="270.6" r="3.0"/>
<circle cx="418.4" cy="183.9" r="3.0"/>
<circle cx="433" cy="185.2" r="3.0"/>
<circle cx="414.5" cy="193.9" r="3.0"/>
<circle cx="434.3" cy="198.5" r="3.0"/>
<circle cx="415.5" cy="204.2" r="3.0"/>
<circle cx="432.3" cy="203.7" r="3.0"/>
<circle cx="415.3" cy="215.9" r="3.0"/>
<circle cx="408.4" cy="218.8" r="3.0"/>
<circle cx="434.9" cy="215.3" r="3.0"/>
<circle cx="440.7" cy="213.3" r="3.0"/>
<circle cx="450.4" cy="216.2" r="3.0"/>
<circle cx="444" cy="228.5" r="3.0"/>
<circle cx="433" cy="233.1" r="3.0"/>
<circle cx="438.1" cy="233.7" r="3.0"/>
<circle cx="411.4" cy="239.1" r="3.0"/>
<circle cx="411" cy="245.3" r="3.0"/>
<circle cx="423.9" cy="241.7" r="3.0"/>
<circle cx="433" cy="241.7" r="3.0"/>
<circle cx="428.4" cy="249" r="3.0"/>
<circle cx="436.2" cy="249" r="3.0"/>
<circle cx="419.4" cy="255.4" r="3.0"/>
<circle cx="411.6" cy="263.1" r="3.0"/>
<circle cx="466.6" cy="230.2" r="3.0"/>
<circle cx="461.4" cy="208.5" r="3.0"/>
<circle cx="464.7" cy="204.6" r="3.0"/>
<circle cx="478.9" cy="198.8" r="3.0"/>
<circle cx="484.1" cy="203.3" r="3.0"/>
<circle cx="485.3" cy="205.3" r="3.0"/>
<circle cx="483.4" cy="207.6" r="3.0"/>
<circle cx="490.5" cy="195.2" r="3.0"/>
<circle cx="494.1" cy="172.7" r="3.0"/>
<circle cx="495.7" cy="205" r="3.0"/>
<circle cx="500.9" cy="204" r="3.0"/>
<circle cx="508.4" cy="201.4" r="3.0"/>
<circle cx="520.5" cy="201.6" r="3.0"/>
<circle cx="530.9" cy="201.4" r="3.0"/>
<circle cx="538.6" cy="204" r="3.0"/>
<circle cx="547.7" cy="178.5" r="3.0"/>
<circle cx="561.6" cy="193.6" r="3.0"/>
<circle cx="563.6" cy="195.9" r="3.0"/>
<circle cx="583.6" cy="191.4" r="3.0"/>
<circle cx="585.8" cy="198.1" r="3.0"/>
<circle cx="556.2" cy="208.1" r="3.0"/>
<circle cx="586.9" cy="210.8" r="3.0"/>
<circle cx="562.9" cy="218.8" r="3.0"/>
<circle cx="570.7" cy="215.3" r="3.0"/>
<circle cx="574.6" cy="215.3" r="3.0"/>
<circle cx="560.3" cy="232.4" r="3.0"/>
<circle cx="562.9" cy="232.4" r="3.0"/>
<circle cx="548.7" cy="236.3" r="3.0"/>
<circle cx="584.9" cy="236.3" r="3.0"/>
<circle cx="515.7" cy="235.9" r="3.0"/>
<circle cx="484.7" cy="245.7" r="3.0"/>
<circle cx="481.5" cy="253.1" r="3.0"/>
<circle cx="545.9" cy="250.9" r="3.0"/>
<circle cx="308.2" cy="281.2" r="3.0"/>
<circle cx="357.8" cy="281.2" r="3.0"/>
<circle cx="349" cy="277.6" r="3.0"/>
<circle cx="288.8" cy="289.9" r="3.0"/>
<circle cx="292.1" cy="289.2" r="3.0"/>
<circle cx="297.2" cy="289" r="3.0"/>
<circle cx="300.9" cy="287.9" r="3.0"/>
<circle cx="306.3" cy="289.2" r="3.0"/>
<circle cx="288.8" cy="295.7" r="3.0"/>
<circle cx="307.6" cy="296.3" r="3.0"/>
<circle cx="310.8" cy="296.3" r="3.0"/>
<circle cx="313.8" cy="296.7" r="3.0"/>
<circle cx="317.3" cy="288.6" r="3.0"/>
<circle cx="325.7" cy="289.9" r="3.0"/>
<circle cx="329.6" cy="290.5" r="3.0"/>
<circle cx="333.4" cy="290.3" r="3.0"/>
<circle cx="337.3" cy="289.9" r="3.0"/>
<circle cx="327" cy="294.4" r="3.0"/>
<circle cx="332.2" cy="294.4" r="3.0"/>
<circle cx="346.4" cy="286.9" r="3.0"/>
<circle cx="352.6" cy="289.9" r="3.0"/>
<circle cx="372.9" cy="289.9" r="3.0"/>
<circle cx="323.8" cy="300.9" r="3.0"/>
<circle cx="320.5" cy="306.7" r="3.0"/>
<circle cx="325.4" cy="313.1" r="3.0"/>
<circle cx="328.9" cy="315.1" r="3.0"/>
<circle cx="333.4" cy="316.6" r="3.0"/>
<circle cx="338" cy="307.6" r="3.0"/>
<circle cx="347.4" cy="301.5" r="3.0"/>
<circle cx="358" cy="298.3" r="3.0"/>
<circle cx="359.3" cy="301.5" r="3.0"/>
<circle cx="364.7" cy="302.5" r="3.0"/>
<circle cx="368.4" cy="310.2" r="3.0"/>
<circle cx="354.5" cy="314.8" r="3.0"/>
<circle cx="299.6" cy="305.4" r="3.0"/>
<circle cx="281.7" cy="326.1" r="3.0"/>
<circle cx="294.7" cy="324.8" r="3.0"/>
<circle cx="304.7" cy="323.9" r="3.0"/>
<circle cx="296.6" cy="331.6" r="3.0"/>
<circle cx="310.2" cy="331.9" r="3.0"/>
<circle cx="320.5" cy="331.6" r="3.0"/>
<circle cx="321.2" cy="327.4" r="3.0"/>
<circle cx="324.4" cy="326.1" r="3.0"/>
<circle cx="335.8" cy="331.9" r="3.0"/>
<circle cx="347" cy="332.3" r="3.0"/>
<circle cx="350.5" cy="338.4" r="3.0"/>
<circle cx="360.3" cy="329.7" r="3.0"/>
<circle cx="276.6" cy="338.4" r="3.0"/>
<circle cx="280.4" cy="340.3" r="3.0"/>
<circle cx="283" cy="336.8" r="3.0"/>
<circle cx="286.9" cy="335.5" r="3.0"/>
<circle cx="306.9" cy="342.2" r="3.0"/>
<circle cx="312.8" cy="344.2" r="3.0"/>
<circle cx="305" cy="349.1" r="3.0"/>
<circle cx="314.1" cy="355.6" r="3.0"/>
<circle cx="297.9" cy="356.7" r="3.0"/>
<circle cx="281.1" cy="358.8" r="3.0"/>
<circle cx="293.4" cy="362.7" r="3.0"/>
<circle cx="403.9" cy="348.1" r="3.0"/>
<circle cx="372.2" cy="353" r="3.0"/>
<circle cx="370.3" cy="359.3" r="3.0"/>
<circle cx="308.9" cy="368.8" r="3.0"/>
<circle cx="299.8" cy="370.7" r="3.0"/>
<circle cx="301.8" cy="377.8" r="3.0"/>
<circle cx="307.6" cy="376.5" r="3.0"/>
<circle cx="312.8" cy="378.4" r="3.0"/>
<circle cx="326.3" cy="383.6" r="3.0"/>
<circle cx="331.5" cy="383.6" r="3.0"/>
<circle cx="335.8" cy="389.4" r="3.0"/>
<circle cx="291.4" cy="386.2" r="3.0"/>
<circle cx="306.3" cy="390.1" r="3.0"/>
<circle cx="311.5" cy="389.8" r="3.0"/>
<circle cx="317.7" cy="391.4" r="3.0"/>
<circle cx="286.9" cy="393.3" r="3.0"/>
<circle cx="297.2" cy="394" r="3.0"/>
<circle cx="293.4" cy="395.8" r="3.0"/>
<circle cx="282.4" cy="399.7" r="3.0"/>
<circle cx="277.2" cy="402.3" r="3.0"/>
<circle cx="294" cy="401.4" r="3.0"/>
<circle cx="302.4" cy="404.9" r="3.0"/>
<circle cx="321.2" cy="407.5" r="3.0"/>
<circle cx="291.8" cy="411.3" r="3.0"/>
<circle cx="289.2" cy="416.5" r="3.0"/>
<circle cx="295.3" cy="416.9" r="3.0"/>
<circle cx="300.5" cy="416.9" r="3.0"/>
<circle cx="294" cy="425.9" r="3.0"/>
<circle cx="306" cy="426.5" r="3.0"/>
<circle cx="314.7" cy="431.4" r="3.0"/>
<circle cx="325.4" cy="433.7" r="3.0"/>
<circle cx="334.7" cy="429.4" r="3.0"/>
<circle cx="345.7" cy="434" r="3.0"/>
<circle cx="285.9" cy="441.3" r="3.0"/>
<circle cx="318.6" cy="441.5" r="3.0"/>
<circle cx="305" cy="446.2" r="3.0"/>
<circle cx="305.4" cy="452.3" r="3.0"/>
<circle cx="319.9" cy="460.9" r="3.0"/>
<circle cx="392.3" cy="461.4" r="3.0"/>
<circle cx="315.3" cy="471.1" r="3.0"/>
<circle cx="300.9" cy="479" r="3.0"/>
<circle cx="309.5" cy="479.2" r="3.0"/>
<circle cx="306" cy="483.4" r="3.0"/>
<circle cx="286.9" cy="483.1" r="3.0"/>
<circle cx="320.5" cy="504.8" r="3.0"/>
<circle cx="284.6" cy="515.1" r="3.0"/>
<circle cx="314.7" cy="515.3" r="3.0"/>
<circle cx="319.2" cy="545.5" r="3.0"/>
<circle cx="293.1" cy="557.8" r="3.0"/>
<circle cx="317.7" cy="575.2" r="3.0"/>
<circle cx="308.2" cy="580" r="3.0"/>
<circle cx="319" cy="590.6" r="3.0"/>
<circle cx="301.4" cy="598.4" r="3.0"/>
<circle cx="322.1" cy="600.4" r="3.0"/>
<circle cx="316.3" cy="633.9" r="3.0"/>
<circle cx="302.1" cy="648.4" r="3.0"/>
<circle cx="318" cy="671.7" r="3.0"/>
<circle cx="319.3" cy="713.8" r="3.0"/>
</g>
<g fill="#dd0000" clip-path="url(#cib)">
<circle cx="902.5" cy="176.8" r="3.0"/>
<circle cx="900.2" cy="187.5" r="3.0"/>
<circle cx="912.8" cy="190.1" r="3.0"/>
<circle cx="892.2" cy="193.3" r="3.0"/>
<circle cx="932.5" cy="192.7" r="3.0"/>
<circle cx="946.7" cy="190.5" r="3.0"/>
<circle cx="966.1" cy="187.5" r="3.0"/>
<circle cx="977.1" cy="192.7" r="3.0"/>
<circle cx="981" cy="196.3" r="3.0"/>
<circle cx="918.9" cy="199.5" r="3.0"/>
<circle cx="922.2" cy="202.4" r="3.0"/>
<circle cx="939" cy="197.6" r="3.0"/>
<circle cx="944.1" cy="199.8" r="3.0"/>
<circle cx="955.5" cy="197.6" r="3.0"/>
<circle cx="958.4" cy="205" r="3.0"/>
<circle cx="960.9" cy="207.9" r="3.0"/>
<circle cx="884" cy="203" r="3.0"/>
<circle cx="879.5" cy="209.5" r="3.0"/>
<circle cx="875.3" cy="214.4" r="3.0"/>
<circle cx="865.9" cy="213.8" r="3.0"/>
<circle cx="890.9" cy="211" r="3.0"/>
<circle cx="896.6" cy="216.3" r="3.0"/>
<circle cx="905.3" cy="217.2" r="3.0"/>
<circle cx="910.5" cy="221.5" r="3.0"/>
<circle cx="919.6" cy="217" r="3.0"/>
<circle cx="929.3" cy="214.3" r="3.0"/>
<circle cx="939.2" cy="212.1" r="3.0"/>
<circle cx="951.2" cy="219.8" r="3.0"/>
<circle cx="968.7" cy="217.5" r="3.0"/>
<circle cx="981.6" cy="211.8" r="3.0"/>
<circle cx="984.9" cy="210.1" r="3.0"/>
<circle cx="988.8" cy="209.5" r="3.0"/>
<circle cx="995.9" cy="206.2" r="3.0"/>
<circle cx="900.4" cy="226.3" r="3.0"/>
<circle cx="900.4" cy="232.1" r="3.0"/>
<circle cx="915.9" cy="226.7" r="3.0"/>
<circle cx="926.3" cy="228.6" r="3.0"/>
<circle cx="928.4" cy="227.6" r="3.0"/>
<circle cx="935.7" cy="229.8" r="3.0"/>
<circle cx="984.9" cy="223.4" r="3.0"/>
<circle cx="992.2" cy="230.2" r="3.0"/>
<circle cx="887.9" cy="234.7" r="3.0"/>
<circle cx="893.1" cy="239" r="3.0"/>
<circle cx="903.8" cy="239" r="3.0"/>
<circle cx="919.8" cy="237" r="3.0"/>
<circle cx="930.6" cy="237.3" r="3.0"/>
<circle cx="938.3" cy="243.5" r="3.0"/>
<circle cx="962.9" cy="238.6" r="3.0"/>
<circle cx="967.2" cy="237.9" r="3.0"/>
<circle cx="969.4" cy="235.3" r="3.0"/>
<circle cx="913.4" cy="247.6" r="3.0"/>
<circle cx="879.7" cy="247.6" r="3.0"/>
<circle cx="881.8" cy="250.2" r="3.0"/>
<circle cx="886.2" cy="253.2" r="3.0"/>
<circle cx="875.9" cy="253.4" r="3.0"/>
<circle cx="971.6" cy="247.6" r="3.0"/>
<circle cx="960.7" cy="251.5" r="3.0"/>
<circle cx="967.4" cy="259.3" r="3.0"/>
<circle cx="895" cy="256" r="3.0"/>
<circle cx="897.3" cy="258" r="3.0"/>
<circle cx="909.5" cy="256.7" r="3.0"/>
<circle cx="920.6" cy="260.6" r="3.0"/>
<circle cx="939.6" cy="261.5" r="3.0"/>
<circle cx="868.1" cy="262.9" r="3.0"/>
<circle cx="862" cy="267.4" r="3.0"/>
<circle cx="896.3" cy="264.4" r="3.0"/>
<circle cx="905.3" cy="264.4" r="3.0"/>
<circle cx="933.5" cy="268.3" r="3.0"/>
<circle cx="1019.7" cy="203.7" r="3.0"/>
<circle cx="1042" cy="194.6" r="3.0"/>
<circle cx="1061.8" cy="192.7" r="3.0"/>
<circle cx="1060.5" cy="195" r="3.0"/>
<circle cx="1059.2" cy="197.6" r="3.0"/>
<circle cx="1094.5" cy="191.6" r="3.0"/>
<circle cx="1012" cy="223.4" r="3.0"/>
<circle cx="1004" cy="232.1" r="3.0"/>
<circle cx="1012.2" cy="232.1" r="3.0"/>
<circle cx="1013.9" cy="239.5" r="3.0"/>
<circle cx="1044.1" cy="220.7" r="3.0"/>
<circle cx="1060.9" cy="236.4" r="3.0"/>
<circle cx="1057.9" cy="243.8" r="3.0"/>
<circle cx="1090.2" cy="226.3" r="3.0"/>
<circle cx="1120.9" cy="226.9" r="3.0"/>
<circle cx="1130.9" cy="223.1" r="3.0"/>
<circle cx="1133.5" cy="223.1" r="3.0"/>
<circle cx="1140.6" cy="205.3" r="3.0"/>
<circle cx="1145.2" cy="205.3" r="3.0"/>
<circle cx="1154.5" cy="226.7" r="3.0"/>
<circle cx="1118.3" cy="242.1" r="3.0"/>
<circle cx="895" cy="273" r="3.0"/>
<circle cx="942.2" cy="273" r="3.0"/>
<circle cx="888.3" cy="279.2" r="3.0"/>
<circle cx="893.7" cy="280.8" r="3.0"/>
<circle cx="903.8" cy="280.3" r="3.0"/>
<circle cx="912.1" cy="281.2" r="3.0"/>
<circle cx="915.7" cy="281.8" r="3.0"/>
<circle cx="918.5" cy="284.4" r="3.0"/>
<circle cx="914.4" cy="285.7" r="3.0"/>
<circle cx="932.5" cy="278.6" r="3.0"/>
<circle cx="877.5" cy="287.2" r="3.0"/>
<circle cx="893.1" cy="288" r="3.0"/>
<circle cx="897.6" cy="288" r="3.0"/>
<circle cx="900.8" cy="288" r="3.0"/>
<circle cx="911.8" cy="288.9" r="3.0"/>
<circle cx="910.5" cy="292.8" r="3.0"/>
<circle cx="907.9" cy="296" r="3.0"/>
<circle cx="906.4" cy="299.3" r="3.0"/>
<circle cx="922.8" cy="299.3" r="3.0"/>
<circle cx="932.5" cy="293.2" r="3.0"/>
<circle cx="941.6" cy="289.6" r="3.0"/>
<circle cx="942.8" cy="292.2" r="3.0"/>
<circle cx="948" cy="293.7" r="3.0"/>
<circle cx="951.6" cy="301.9" r="3.0"/>
<circle cx="939" cy="306.6" r="3.0"/>
<circle cx="887" cy="296.7" r="3.0"/>
<circle cx="910.5" cy="305.1" r="3.0"/>
<circle cx="915" cy="307.7" r="3.0"/>
<circle cx="919.6" cy="308.3" r="3.0"/>
<circle cx="913.1" cy="305.7" r="3.0"/>
<circle cx="870.4" cy="318.7" r="3.0"/>
<circle cx="882.3" cy="316.7" r="3.0"/>
<circle cx="884.7" cy="324.2" r="3.0"/>
<circle cx="892.2" cy="315.7" r="3.0"/>
<circle cx="906.9" cy="319.3" r="3.0"/>
<circle cx="910.5" cy="318.3" r="3.0"/>
<circle cx="931.9" cy="324.5" r="3.0"/>
<circle cx="934.8" cy="330.7" r="3.0"/>
<circle cx="944.4" cy="321.5" r="3.0"/>
<circle cx="897.3" cy="336.4" r="3.0"/>
<circle cx="900.2" cy="336.8" r="3.0"/>
<circle cx="892.4" cy="341.3" r="3.0"/>
<circle cx="900.8" cy="348" r="3.0"/>
<circle cx="885.7" cy="349.3" r="3.0"/>
<circle cx="869.8" cy="351.4" r="3.0"/>
<circle cx="881.4" cy="354.9" r="3.0"/>
<circle cx="985.3" cy="340" r="3.0"/>
<circle cx="955.8" cy="345.8" r="3.0"/>
<circle cx="953.2" cy="351.6" r="3.0"/>
<circle cx="887.2" cy="363" r="3.0"/>
<circle cx="895" cy="361.7" r="3.0"/>
<circle cx="898.2" cy="362" r="3.0"/>
<circle cx="888.5" cy="370.4" r="3.0"/>
<circle cx="893.1" cy="369.1" r="3.0"/>
<circle cx="894.4" cy="372.3" r="3.0"/>
<circle cx="899.1" cy="371.7" r="3.0"/>
<circle cx="911.8" cy="376.9" r="3.0"/>
<circle cx="916.3" cy="376.9" r="3.0"/>
<circle cx="879.5" cy="379.1" r="3.0"/>
<circle cx="921.5" cy="382.4" r="3.0"/>
<circle cx="893.7" cy="382.9" r="3.0"/>
<circle cx="898.2" cy="382.9" r="3.0"/>
<circle cx="904.1" cy="383.3" r="3.0"/>
<circle cx="875.6" cy="384.6" r="3.0"/>
<circle cx="875.6" cy="386.7" r="3.0"/>
<circle cx="880.8" cy="388.4" r="3.0"/>
<circle cx="885.3" cy="388.8" r="3.0"/>
<circle cx="870.4" cy="392.9" r="3.0"/>
<circle cx="866.3" cy="395.5" r="3.0"/>
<circle cx="881.8" cy="394.5" r="3.0"/>
<circle cx="889.8" cy="398.1" r="3.0"/>
<circle cx="907.3" cy="400.7" r="3.0"/>
<circle cx="880.1" cy="404.6" r="3.0"/>
<circle cx="877.5" cy="410" r="3.0"/>
<circle cx="883.1" cy="410.4" r="3.0"/>
<circle cx="888.5" cy="410.4" r="3.0"/>
<circle cx="881.4" cy="419.4" r="3.0"/>
<circle cx="893.4" cy="420.1" r="3.0"/>
<circle cx="901.5" cy="425" r="3.0"/>
<circle cx="911.8" cy="427.6" r="3.0"/>
<circle cx="920.2" cy="422.7" r="3.0"/>
<circle cx="930.6" cy="427.6" r="3.0"/>
<circle cx="874.3" cy="435.3" r="3.0"/>
<circle cx="904.7" cy="435.3" r="3.0"/>
<circle cx="892.4" cy="440.3" r="3.0"/>
<circle cx="893.1" cy="446.6" r="3.0"/>
<circle cx="906" cy="455" r="3.0"/>
<circle cx="974.5" cy="455.6" r="3.0"/>
<circle cx="901.7" cy="465.3" r="3.0"/>
<circle cx="888.5" cy="473.4" r="3.0"/>
<circle cx="896.6" cy="474.1" r="3.0"/>
<circle cx="893.1" cy="478.3" r="3.0"/>
<circle cx="875.3" cy="477.6" r="3.0"/>
<circle cx="906.4" cy="498.3" r="3.0"/>
<circle cx="873.7" cy="510.5" r="3.0"/>
<circle cx="901.5" cy="510.8" r="3.0"/>
<circle cx="906" cy="540.9" r="3.0"/>
<circle cx="881.4" cy="553.6" r="3.0"/>
<circle cx="904.3" cy="571.6" r="3.0"/>
<circle cx="895.6" cy="576.5" r="3.0"/>
<circle cx="905.1" cy="587.1" r="3.0"/>
<circle cx="888.5" cy="595.2" r="3.0"/>
<circle cx="908.6" cy="597.2" r="3.0"/>
<circle cx="902.2" cy="630.7" r="3.0"/>
<circle cx="889.3" cy="645.5" r="3.0"/>
<circle cx="904.8" cy="669.1" r="3.0"/>
<circle cx="906.2" cy="711.9" r="3.0"/>
</g>
<path d="M587.3,181.49 L584.87,181.65 L582.47,181.81 L580.08,181.97 L577.71,182.13 L575.37,182.3 L573.04,182.46 L570.74,182.63 L568.46,182.8 L566.19,182.97 L563.95,183.14 L561.72,183.31 L559.51,183.49 L557.33,183.67 L555.16,183.84 L553.01,184.02 L550.88,184.2 L548.77,184.39 L546.67,184.57 L544.59,184.76 L542.54,184.94 L540.5,185.13 L538.47,185.32 L536.47,185.52 L534.48,185.71 L532.51,185.91 L530.56,186.1 L528.62,186.3 L526.7,186.5 L524.8,186.71 L522.91,186.91 L521.04,187.12 L519.19,187.32 L517.35,187.53 L515.53,187.75 L513.72,187.96 L511.93,188.17 L510.15,188.39 L508.39,188.61 L506.65,188.83 L504.92,189.06 L503.21,189.28 L501.51,189.51 L499.82,189.74 L498.15,189.97 L496.49,190.2 L494.85,190.43 L493.22,190.67 L491.61,190.91 L490.01,191.15 L488.43,191.4 L486.86,191.64 L485.3,191.89 L483.75,192.14 L482.22,192.39 L480.7,192.64 L479.2,192.9 L477.71,193.16 L476.23,193.42 L474.76,193.68 L473.31,193.95 L471.87,194.22 L470.44,194.49 L469.02,194.76 L467.62,195.03 L466.23,195.31 L464.85,195.59 L463.48,195.87 L462.12,196.16 L460.78,196.44 L459.45,196.73 L458.13,197.02 L456.82,197.32 L455.52,197.62 L454.23,197.92 L452.96,198.22 L451.69,198.52 L450.44,198.83 L449.2,199.14 L447.96,199.45 L446.74,199.77 L445.53,200.09 L444.33,200.41 L443.14,200.73 L441.96,201.06 L440.79,201.39 L439.63,201.72 L438.48,202.06 L437.34,202.4 L436.22,202.74 L435.1,203.08 L433.99,203.43 L432.89,203.78 L431.79,204.14 L430.71,204.49 L429.64,204.85 L428.58,205.21 L427.52,205.58 L426.48,205.95 L425.44,206.32 L424.42,206.7 L423.4,207.08 L422.39,207.46 L421.39,207.85 L420.4,208.23 L419.42,208.63 L418.44,209.02 L417.48,209.42 L416.52,209.82 L415.57,210.23 L414.63,210.64 L413.7,211.05 L412.77,211.47 L411.86,211.89 L410.95,212.32 L410.05,212.75 L409.15,213.18 L408.27,213.61 L407.39,214.05 L406.52,214.5 L405.66,214.94 L404.8,215.39 L403.96,215.85 L403.11,216.31 L402.28,216.77 L401.46,217.24 L400.64,217.71 L399.83,218.18 L399.02,218.66 L398.22,219.15 L397.43,219.63 L396.65,220.13 L395.87,220.62 L395.1,221.12 L394.34,221.63 L393.58,222.14 L392.83,222.65 L392.09,223.17 L391.35,223.69 L390.62,224.22 L389.89,224.75 L389.17,225.29 L388.46,225.83 L387.76,226.38 L387.06,226.93 L386.36,227.48 L385.67,228.04 L384.99,228.61 L384.32,229.18 L383.64,229.76 L382.98,230.34 L382.32,230.92 L381.67,231.51 L381.02,232.11 L380.38,232.71 L379.74,233.32 L379.11,233.93 L378.49,234.54 L377.87,235.17 L377.25,235.79 L376.64,236.43 L376.04,237.07 L375.44,237.71 L374.85,238.36 L374.26,239.02 L373.68,239.68 L373.1,240.34 L372.53,241.02 L371.96,241.7 L371.39,242.38 L370.84,243.07 L370.28,243.77 L369.73,244.47 L369.19,245.18 L368.65,245.9 L368.11,246.62 L367.58,247.34 L367.06,248.08 L366.54,248.82 L366.02,249.57 L365.51,250.32 L365,251.08 L364.5,251.85 L364,252.62 L363.51,253.4 L363.02,254.19 L362.53,254.98 L362.05,255.78 L361.57,256.59 L361.1,257.4 L360.63,258.23 L360.16,259.05 L359.7,259.89 L359.25,260.73 L358.79,261.59 L358.34,262.44 L357.9,263.31 L357.46,264.18 L357.02,265.06 L356.58,265.95 L356.15,266.85 L355.73,267.75 L355.31,268.67 L354.89,269.59 L354.47,270.52 L354.06,271.45 L353.65,272.4 L353.25,273.35 L352.84,274.31 L352.45,275.28 L352.05,276.26 L351.66,277.25 L351.27,278.24 L350.89,279.24 L350.51,280.26 L350.13,281.28 L349.76,282.31 L349.39,283.35 L349.02,284.4 L348.65,285.45 L348.29,286.52 L347.93,287.6 L347.58,288.68 L347.23,289.78 L346.88,290.88 L346.53,292 L346.19,293.12 L345.85,294.26 L345.51,295.4 L345.18,296.55 L344.84,297.72 L344.52,298.89 L344.19,300.08 L343.87,301.27 L343.55,302.48 L343.23,303.69 L342.92,304.92 L342.6,306.15 L342.29,307.4 L341.99,308.66 L341.68,309.93 L341.38,311.21 L341.08,312.5 L340.79,313.81 L340.5,315.12 L340.2,316.45 L339.92,317.78 L339.63,319.13 L339.35,320.49 L339.07,321.87 L338.79,323.25 L338.51,324.65 L338.24,326.06 L337.97,327.48 L337.7,328.91 L337.43,330.36 L337.17,331.82 L336.9,333.29 L336.64,334.78 L336.39,336.27 L336.13,337.79 L335.88,339.31 L335.63,340.85 L335.38,342.4 L335.13,343.96 L334.89,345.54 L334.65,347.13 L334.41,348.74 L334.17,350.36 L333.93,351.99 L333.7,353.64 L333.47,355.3 L333.24,356.98 L333.01,358.67 L332.78,360.38 L332.56,362.1 L332.34,363.83 L332.12,365.59 L331.9,367.35 L331.68,369.14 L331.47,370.93 L331.25,372.75 L331.04,374.58 L330.83,376.42 L330.63,378.28 L330.42,380.16 L330.22,382.05 L330.02,383.97 L329.82,385.89 L329.62,387.84 L329.42,389.8 L329.23,391.78 L329.03,393.77 L328.84,395.78 L328.65,397.82 L328.46,399.86 L328.28,401.93 L328.09,404.01 L327.91,406.12 L327.73,408.24 L327.54,410.38 L327.37,412.54 L327.19,414.71 L327.01,416.91 L326.84,419.12 L326.67,421.36 L326.5,423.61 L326.33,425.89 L326.16,428.18 L325.99,430.49 L325.83,432.83 L325.66,435.18 L325.5,437.55 L325.34,439.95 L325.18,442.37 L325.02,444.8 L324.86,447.26 L324.71,449.74 L324.55,452.24 L324.4,454.77 L324.25,457.31 L324.1,459.88 L323.95,462.47 L323.8,465.09 L323.66,467.72 L323.51,470.38 L323.37,473.06 L323.23,475.77 L323.08,478.5 L322.94,481.25 L322.8,484.03 L322.67,486.83 L322.53,489.66 L322.4,492.51 L322.26,495.38 L322.13,498.28 L322,501.21 L321.87,504.16 L321.74,507.14 L321.61,510.14 L321.48,513.17 L321.35,516.22 L321.23,519.31 L321.11,522.42 L320.98,525.55 L320.86,528.72 L320.74,531.91 L320.62,535.13 L320.5,538.38 L320.38,541.65 L320.27,544.96 L320.15,548.29 L320.04,551.65 L319.92,555.04 L319.81,558.47 L319.7,561.92 L319.59,565.4 L319.48,568.91 L319.37,572.45 L319.26,576.03 L319.15,579.63 L319.05,583.27 L318.94,586.94 L318.84,590.64 L318.73,594.37 L318.63,598.14 L318.53,601.93 L318.43,605.76 L318.33,609.63 L318.23,613.53 L318.13,617.46 L318.04,621.43 L317.94,625.43 L317.84,629.46 L317.75,633.54 L317.66,637.64 L317.56,641.79 L317.47,645.97 L317.38,650.18 L317.29,654.43 L317.2,658.72 L317.11,663.05 L317.02,667.42 L316.93,671.82 L316.85,676.26 L316.76,680.74 L316.67,685.26 L316.59,689.82 L316.51,694.42 L316.42,699.06 L316.34,703.74 L316.26,708.46 L316.18,713.22 L316.1,718.02 L316.02,722.87 L315.94,727.75 L315.86,732.69 L315.78,737.66 L315.71,742.67 L315.63,747.74 L315.55,752.84" fill="none" stroke="#000" stroke-width="2.4" stroke-linejoin="round"/>
<path d="M1157.1,171.16 L1154.8,171.32 L1152.53,171.49 L1150.27,171.65 L1148.03,171.82 L1145.82,171.98 L1143.62,172.15 L1141.44,172.32 L1139.28,172.49 L1137.14,172.66 L1135.01,172.84 L1132.91,173.01 L1130.82,173.19 L1128.75,173.37 L1126.7,173.55 L1124.67,173.73 L1122.66,173.91 L1120.66,174.1 L1118.68,174.28 L1116.71,174.47 L1114.77,174.66 L1112.84,174.85 L1110.93,175.04 L1109.03,175.24 L1107.15,175.44 L1105.29,175.63 L1103.44,175.83 L1101.61,176.04 L1099.8,176.24 L1098,176.44 L1096.21,176.65 L1094.45,176.86 L1092.69,177.07 L1090.96,177.28 L1089.23,177.5 L1087.53,177.71 L1085.83,177.93 L1084.15,178.15 L1082.49,178.37 L1080.84,178.6 L1079.21,178.82 L1077.59,179.05 L1075.98,179.28 L1074.39,179.51 L1072.81,179.75 L1071.24,179.98 L1069.69,180.22 L1068.15,180.46 L1066.63,180.7 L1065.12,180.95 L1063.62,181.19 L1062.14,181.44 L1060.66,181.69 L1059.2,181.94 L1057.76,182.2 L1056.32,182.46 L1054.9,182.72 L1053.49,182.98 L1052.09,183.24 L1050.71,183.51 L1049.33,183.78 L1047.97,184.05 L1046.62,184.32 L1045.29,184.6 L1043.96,184.88 L1042.64,185.16 L1041.34,185.44 L1040.05,185.73 L1038.77,186.01 L1037.5,186.3 L1036.24,186.6 L1034.99,186.89 L1033.76,187.19 L1032.53,187.49 L1031.31,187.8 L1030.11,188.1 L1028.91,188.41 L1027.73,188.72 L1026.56,189.04 L1025.39,189.36 L1024.24,189.68 L1023.1,190 L1021.96,190.32 L1020.84,190.65 L1019.72,190.98 L1018.62,191.32 L1017.52,191.65 L1016.44,191.99 L1015.36,192.34 L1014.3,192.68 L1013.24,193.03 L1012.19,193.38 L1011.15,193.74 L1010.12,194.1 L1009.1,194.46 L1008.09,194.82 L1007.08,195.19 L1006.09,195.56 L1005.1,195.94 L1004.13,196.31 L1003.16,196.7 L1002.2,197.08 L1001.24,197.47 L1000.3,197.86 L999.36,198.25 L998.44,198.65 L997.52,199.05 L996.6,199.46 L995.7,199.87 L994.8,200.28 L993.92,200.69 L993.04,201.11 L992.16,201.53 L991.3,201.96 L990.44,202.39 L989.59,202.83 L988.75,203.26 L987.91,203.7 L987.08,204.15 L986.26,204.6 L985.45,205.05 L984.64,205.51 L983.84,205.97 L983.05,206.44 L982.26,206.91 L981.48,207.38 L980.71,207.86 L979.94,208.34 L979.18,208.83 L978.43,209.32 L977.68,209.81 L976.95,210.31 L976.21,210.81 L975.48,211.32 L974.76,211.83 L974.05,212.35 L973.34,212.87 L972.64,213.4 L971.94,213.93 L971.25,214.46 L970.57,215 L969.89,215.55 L969.22,216.1 L968.55,216.65 L967.89,217.21 L967.24,217.77 L966.59,218.34 L965.95,218.91 L965.31,219.49 L964.68,220.08 L964.05,220.67 L963.43,221.26 L962.81,221.86 L962.2,222.46 L961.6,223.07 L961,223.69 L960.4,224.31 L959.81,224.93 L959.23,225.57 L958.65,226.2 L958.07,226.84 L957.5,227.49 L956.94,228.15 L956.38,228.81 L955.82,229.47 L955.27,230.14 L954.73,230.82 L954.19,231.5 L953.65,232.19 L953.12,232.89 L952.59,233.59 L952.07,234.29 L951.55,235.01 L951.04,235.73 L950.53,236.45 L950.03,237.18 L949.53,237.92 L949.03,238.67 L948.54,239.42 L948.06,240.18 L947.57,240.94 L947.09,241.71 L946.62,242.49 L946.15,243.28 L945.68,244.07 L945.22,244.87 L944.76,245.67 L944.31,246.49 L943.86,247.31 L943.41,248.13 L942.97,248.97 L942.53,249.81 L942.1,250.66 L941.67,251.51 L941.24,252.38 L940.82,253.25 L940.4,254.13 L939.98,255.02 L939.57,255.91 L939.16,256.81 L938.75,257.72 L938.35,258.64 L937.95,259.57 L937.56,260.5 L937.17,261.45 L936.78,262.4 L936.39,263.36 L936.01,264.32 L935.63,265.3 L935.26,266.28 L934.89,267.28 L934.52,268.28 L934.15,269.29 L933.79,270.31 L933.43,271.34 L933.08,272.38 L932.72,273.42 L932.38,274.48 L932.03,275.54 L931.69,276.62 L931.34,277.7 L931.01,278.79 L930.67,279.9 L930.34,281.01 L930.01,282.13 L929.69,283.26 L929.36,284.4 L929.04,285.56 L928.72,286.72 L928.41,287.89 L928.1,289.07 L927.79,290.27 L927.48,291.47 L927.18,292.68 L926.88,293.91 L926.58,295.14 L926.28,296.39 L925.99,297.64 L925.7,298.91 L925.41,300.19 L925.12,301.48 L924.84,302.78 L924.56,304.09 L924.28,305.42 L924,306.75 L923.73,308.1 L923.46,309.46 L923.19,310.83 L922.92,312.22 L922.65,313.61 L922.39,315.02 L922.13,316.44 L921.87,317.87 L921.62,319.31 L921.37,320.77 L921.12,322.24 L920.87,323.73 L920.62,325.22 L920.37,326.73 L920.13,328.25 L919.89,329.79 L919.65,331.34 L919.42,332.9 L919.18,334.48 L918.95,336.07 L918.72,337.67 L918.49,339.29 L918.27,340.92 L918.04,342.57 L917.82,344.23 L917.6,345.9 L917.38,347.59 L917.17,349.3 L916.95,351.02 L916.74,352.75 L916.53,354.5 L916.32,356.27 L916.11,358.05 L915.91,359.85 L915.7,361.66 L915.5,363.49 L915.3,365.33 L915.1,367.19 L914.9,369.07 L914.71,370.96 L914.52,372.87 L914.32,374.79 L914.13,376.74 L913.95,378.7 L913.76,380.67 L913.57,382.67 L913.39,384.68 L913.21,386.71 L913.03,388.76 L912.85,390.82 L912.67,392.91 L912.5,395.01 L912.32,397.13 L912.15,399.26 L911.98,401.42 L911.81,403.6 L911.64,405.79 L911.48,408.01 L911.31,410.24 L911.15,412.49 L910.98,414.77 L910.82,417.06 L910.66,419.37 L910.5,421.71 L910.35,424.06 L910.19,426.43 L910.04,428.83 L909.89,431.24 L909.73,433.68 L909.58,436.14 L909.44,438.62 L909.29,441.12 L909.14,443.64 L909,446.19 L908.85,448.76 L908.71,451.35 L908.57,453.96 L908.43,456.6 L908.29,459.26 L908.15,461.94 L908.02,464.64 L907.88,467.37 L907.75,470.13 L907.61,472.9 L907.48,475.7 L907.35,478.53 L907.22,481.38 L907.09,484.26 L906.97,487.16 L906.84,490.09 L906.72,493.04 L906.59,496.01 L906.47,499.02 L906.35,502.05 L906.23,505.11 L906.11,508.19 L905.99,511.3 L905.87,514.44 L905.75,517.6 L905.64,520.8 L905.52,524.02 L905.41,527.27 L905.3,530.54 L905.19,533.85 L905.07,537.18 L904.97,540.55 L904.86,543.94 L904.75,547.36 L904.64,550.82 L904.54,554.3 L904.43,557.82 L904.33,561.36 L904.22,564.94 L904.12,568.54 L904.02,572.18 L903.92,575.85 L903.82,579.56 L903.72,583.29 L903.62,587.06 L903.53,590.86 L903.43,594.69 L903.33,598.56 L903.24,602.46 L903.15,606.4 L903.05,610.37 L902.96,614.37 L902.87,618.41 L902.78,622.49 L902.69,626.6 L902.6,630.74 L902.51,634.93 L902.42,639.15 L902.34,643.4 L902.25,647.7 L902.17,652.03 L902.08,656.4 L902,660.81 L901.91,665.25 L901.83,669.74 L901.75,674.26 L901.67,678.83 L901.59,683.43 L901.51,688.07 L901.43,692.76 L901.35,697.48 L901.28,702.25 L901.2,707.06 L901.12,711.91 L901.05,716.81 L900.97,721.74 L900.9,726.72 L900.83,731.74 L900.75,736.81 L900.68,741.92 L900.61,747.08 L900.54,752.28" fill="none" stroke="#000" stroke-width="2.4" stroke-linejoin="round"/>
<line x1="1320.64" y1="85.4" x2="1320.64" y2="911.3" stroke="#000" stroke-width="2" stroke-dasharray="10,10"/>
<line x1="1320.64" y1="85.4" x2="1320.64" y2="100.4" stroke="#000" stroke-width="2" />
<line x1="1443.6" y1="85.4" x2="1443.6" y2="100.4" stroke="#000" stroke-width="2" />
<line x1="1597.3" y1="85.4" x2="1597.3" y2="100.4" stroke="#000" stroke-width="2" />
<line x1="1751" y1="85.4" x2="1751" y2="100.4" stroke="#000" stroke-width="2" />
<line x1="1290.6" y1="250.58" x2="1306.3" y2="250.58" stroke="#000" stroke-width="2" />
<line x1="1290.6" y1="415.76" x2="1306.3" y2="415.76" stroke="#000" stroke-width="2" />
<line x1="1290.6" y1="580.94" x2="1306.3" y2="580.94" stroke="#000" stroke-width="2" />
<line x1="1290.6" y1="746.12" x2="1306.3" y2="746.12" stroke="#000" stroke-width="2" />
<line x1="1290.6" y1="911.3" x2="1306.3" y2="911.3" stroke="#000" stroke-width="2" />
<line x1="1289.6" y1="85.4" x2="1752" y2="85.4" stroke="#000" stroke-width="2.2" />
<line x1="1290.6" y1="84.4" x2="1290.6" y2="912.3" stroke="#000" stroke-width="2.2" />
<g fill="#dd0000">
<circle cx="1403.6" cy="154.2" r="4.6"/>
<circle cx="1484.5" cy="157.8" r="4.6"/>
<circle cx="1599.4" cy="134.7" r="4.6"/>
<circle cx="1736.1" cy="167.6" r="4.6"/>
<circle cx="1426.4" cy="200.8" r="4.6"/>
<circle cx="1357.2" cy="237.2" r="4.6"/>
<circle cx="1350.8" cy="247.1" r="4.6"/>
<circle cx="1370.6" cy="243.6" r="4.6"/>
<circle cx="1376.8" cy="253.9" r="4.6"/>
<circle cx="1364.4" cy="260.6" r="4.6"/>
<circle cx="1355.5" cy="293.4" r="4.6"/>
<circle cx="1344.2" cy="306.7" r="4.6"/>
<circle cx="1352" cy="319.6" r="4.6"/>
<circle cx="1369.1" cy="322.9" r="4.6"/>
<circle cx="1442.2" cy="303.5" r="4.6"/>
<circle cx="1432.8" cy="319.6" r="4.6"/>
<circle cx="1401.8" cy="330" r="4.6"/>
<circle cx="1433.5" cy="336.4" r="4.6"/>
<circle cx="1442.8" cy="352.6" r="4.6"/>
<circle cx="1377.5" cy="359.4" r="4.6"/>
<circle cx="1396.9" cy="362.6" r="4.6"/>
<circle cx="1409.5" cy="379.4" r="4.6"/>
<circle cx="1419.6" cy="379.4" r="4.6"/>
<circle cx="1406.3" cy="395.6" r="4.6"/>
<circle cx="1422.5" cy="398.8" r="4.6"/>
<circle cx="1369.8" cy="402" r="4.6"/>
<circle cx="1375.9" cy="398.8" r="4.6"/>
<circle cx="1403.7" cy="408.5" r="4.6"/>
<circle cx="1336.2" cy="415" r="4.6"/>
<circle cx="1389.5" cy="435.4" r="4.6"/>
<circle cx="1429.9" cy="432.1" r="4.6"/>
<circle cx="1444.1" cy="451.5" r="4.6"/>
<circle cx="1332.3" cy="482" r="4.6"/>
<circle cx="1377.9" cy="488" r="4.6"/>
<circle cx="1329" cy="545.3" r="4.6"/>
<circle cx="1328.1" cy="581.5" r="4.6"/>
<circle cx="1362.7" cy="594.4" r="4.6"/>
<circle cx="1381.4" cy="594.4" r="4.6"/>
<circle cx="1379.1" cy="634.5" r="4.6"/>
<circle cx="1362.3" cy="674" r="4.6"/>
<circle cx="1367.5" cy="726.6" r="4.6"/>
<circle cx="1355.5" cy="749.7" r="4.6"/>
<circle cx="1378.5" cy="749.7" r="4.6"/>
<circle cx="1371.2" cy="803.2" r="4.6"/>
<circle cx="1353.5" cy="816.2" r="4.6"/>
<circle cx="1351.3" cy="862.2" r="4.6"/>
<circle cx="1367.5" cy="865.8" r="4.6"/>
</g>
<path d="M1751,127.66 L1747.82,127.98 L1744.67,128.3 L1741.54,128.62 L1738.44,128.94 L1735.36,129.26 L1732.3,129.59 L1729.26,129.92 L1726.24,130.25 L1723.25,130.59 L1720.28,130.92 L1717.33,131.26 L1714.41,131.6 L1711.5,131.95 L1708.62,132.3 L1705.76,132.65 L1702.92,133 L1700.1,133.35 L1697.3,133.71 L1694.52,134.07 L1691.76,134.44 L1689.03,134.8 L1686.31,135.17 L1683.61,135.54 L1680.94,135.91 L1678.28,136.29 L1675.64,136.67 L1673.02,137.05 L1670.42,137.44 L1667.85,137.83 L1665.29,138.22 L1662.74,138.61 L1660.22,139.01 L1657.72,139.41 L1655.23,139.81 L1652.77,140.22 L1650.32,140.63 L1647.89,141.04 L1645.48,141.45 L1643.08,141.87 L1640.71,142.29 L1638.35,142.72 L1636.01,143.14 L1633.68,143.58 L1631.37,144.01 L1629.08,144.45 L1626.81,144.89 L1624.55,145.33 L1622.32,145.78 L1620.09,146.23 L1617.89,146.68 L1615.7,147.14 L1613.52,147.6 L1611.36,148.06 L1609.22,148.53 L1607.1,149 L1604.99,149.48 L1602.89,149.95 L1600.81,150.44 L1598.75,150.92 L1596.7,151.41 L1594.67,151.9 L1592.65,152.4 L1590.65,152.9 L1588.66,153.4 L1586.68,153.91 L1584.73,154.42 L1582.78,154.93 L1580.85,155.45 L1578.93,155.97 L1577.03,156.5 L1575.15,157.03 L1573.27,157.57 L1571.41,158.1 L1569.57,158.65 L1567.73,159.19 L1565.91,159.74 L1564.11,160.3 L1562.32,160.86 L1560.54,161.42 L1558.77,161.99 L1557.02,162.56 L1555.28,163.13 L1553.56,163.71 L1551.84,164.3 L1550.14,164.89 L1548.45,165.48 L1546.78,166.08 L1545.11,166.68 L1543.46,167.28 L1541.82,167.89 L1540.19,168.51 L1538.58,169.13 L1536.98,169.75 L1535.39,170.38 L1533.81,171.02 L1532.24,171.66 L1530.68,172.3 L1529.14,172.95 L1527.61,173.6 L1526.08,174.26 L1524.57,174.92 L1523.07,175.59 L1521.59,176.26 L1520.11,176.94 L1518.64,177.62 L1517.19,178.31 L1515.74,179 L1514.31,179.7 L1512.89,180.41 L1511.47,181.11 L1510.07,181.83 L1508.68,182.55 L1507.3,183.27 L1505.93,184 L1504.57,184.74 L1503.21,185.48 L1501.87,186.22 L1500.54,186.98 L1499.22,187.73 L1497.91,188.5 L1496.61,189.27 L1495.32,190.04 L1494.03,190.82 L1492.76,191.61 L1491.5,192.4 L1490.24,193.2 L1489,194 L1487.76,194.81 L1486.53,195.63 L1485.32,196.45 L1484.11,197.28 L1482.91,198.11 L1481.72,198.95 L1480.54,199.8 L1479.36,200.66 L1478.2,201.51 L1477.04,202.38 L1475.9,203.25 L1474.76,204.13 L1473.63,205.02 L1472.5,205.91 L1471.39,206.81 L1470.29,207.71 L1469.19,208.63 L1468.1,209.55 L1467.02,210.47 L1465.94,211.41 L1464.88,212.35 L1463.82,213.29 L1462.77,214.25 L1461.73,215.21 L1460.7,216.18 L1459.67,217.15 L1458.65,218.13 L1457.64,219.12 L1456.64,220.12 L1455.64,221.13 L1454.65,222.14 L1453.67,223.16 L1452.7,224.19 L1451.73,225.22 L1450.77,226.26 L1449.82,227.31 L1448.87,228.37 L1447.93,229.44 L1447,230.51 L1446.08,231.6 L1445.16,232.69 L1444.25,233.79 L1443.34,234.89 L1442.44,236.01 L1441.55,237.13 L1440.67,238.26 L1439.79,239.4 L1438.92,240.55 L1438.05,241.71 L1437.2,242.88 L1436.34,244.05 L1435.5,245.23 L1434.66,246.43 L1433.82,247.63 L1433,248.84 L1432.18,250.06 L1431.36,251.28 L1430.55,252.52 L1429.75,253.77 L1428.95,255.02 L1428.16,256.29 L1427.38,257.56 L1426.6,258.85 L1425.82,260.14 L1425.05,261.44 L1424.29,262.76 L1423.53,264.08 L1422.78,265.41 L1422.04,266.76 L1421.3,268.11 L1420.56,269.47 L1419.83,270.85 L1419.11,272.23 L1418.39,273.62 L1417.68,275.03 L1416.97,276.44 L1416.27,277.87 L1415.57,279.3 L1414.88,280.75 L1414.19,282.2 L1413.51,283.67 L1412.83,285.15 L1412.16,286.64 L1411.49,288.14 L1410.83,289.65 L1410.18,291.18 L1409.52,292.71 L1408.88,294.26 L1408.23,295.82 L1407.6,297.39 L1406.96,298.97 L1406.33,300.56 L1405.71,302.17 L1405.09,303.78 L1404.48,305.41 L1403.87,307.05 L1403.26,308.71 L1402.66,310.37 L1402.06,312.05 L1401.47,313.74 L1400.88,315.44 L1400.3,317.16 L1399.72,318.89 L1399.15,320.63 L1398.58,322.38 L1398.01,324.15 L1397.45,325.93 L1396.89,327.73 L1396.34,329.53 L1395.79,331.36 L1395.24,333.19 L1394.7,335.04 L1394.16,336.9 L1393.63,338.78 L1393.1,340.67 L1392.57,342.57 L1392.05,344.49 L1391.53,346.42 L1391.02,348.37 L1390.51,350.33 L1390,352.31 L1389.5,354.3 L1389,356.3 L1388.5,358.32 L1388.01,360.36 L1387.52,362.41 L1387.04,364.48 L1386.56,366.56 L1386.08,368.66 L1385.61,370.77 L1385.14,372.9 L1384.67,375.04 L1384.21,377.2 L1383.75,379.38 L1383.29,381.57 L1382.84,383.78 L1382.39,386.01 L1381.94,388.25 L1381.5,390.51 L1381.06,392.78 L1380.62,395.08 L1380.19,397.39 L1379.76,399.71 L1379.33,402.06 L1378.91,404.42 L1378.49,406.8 L1378.07,409.2 L1377.65,411.61 L1377.24,414.04 L1376.83,416.5 L1376.43,418.97 L1376.03,421.45 L1375.63,423.96 L1375.23,426.49 L1374.84,429.03 L1374.45,431.59 L1374.06,434.18 L1373.67,436.78 L1373.29,439.4 L1372.91,442.04 L1372.54,444.7 L1372.16,447.38 L1371.79,450.08 L1371.42,452.8 L1371.06,455.54 L1370.7,458.3 L1370.34,461.08 L1369.98,463.88 L1369.62,466.71 L1369.27,469.55 L1368.92,472.42 L1368.58,475.3 L1368.23,478.21 L1367.89,481.14 L1367.55,484.09 L1367.21,487.07 L1366.88,490.06 L1366.55,493.08 L1366.22,496.12 L1365.89,499.19 L1365.57,502.27 L1365.25,505.38 L1364.93,508.52 L1364.61,511.67 L1364.29,514.85 L1363.98,518.05 L1363.67,521.28 L1363.36,524.53 L1363.06,527.81 L1362.76,531.11 L1362.45,534.43 L1362.16,537.78 L1361.86,541.16 L1361.56,544.56 L1361.27,547.98 L1360.98,551.43 L1360.69,554.91 L1360.41,558.41 L1360.12,561.94 L1359.84,565.49 L1359.56,569.07 L1359.29,572.68 L1359.01,576.32 L1358.74,579.98 L1358.47,583.67 L1358.2,587.38 L1357.93,591.13 L1357.66,594.9 L1357.4,598.7 L1357.14,602.53 L1356.88,606.39 L1356.62,610.27 L1356.37,614.19 L1356.11,618.13 L1355.86,622.11 L1355.61,626.11 L1355.36,630.14 L1355.11,634.21 L1354.87,638.3 L1354.63,642.42 L1354.39,646.58 L1354.15,650.76 L1353.91,654.98 L1353.67,659.23 L1353.44,663.51 L1353.21,667.82 L1352.98,672.17 L1352.75,676.54 L1352.52,680.95 L1352.3,685.4 L1352.07,689.87 L1351.85,694.38 L1351.63,698.92 L1351.41,703.5 L1351.19,708.11 L1350.98,712.75 L1350.77,717.43 L1350.55,722.15 L1350.34,726.9 L1350.13,731.68 L1349.93,736.5 L1349.72,741.36 L1349.51,746.25 L1349.31,751.18 L1349.11,756.15 L1348.91,761.15 L1348.71,766.19 L1348.51,771.27 L1348.32,776.39 L1348.12,781.54 L1347.93,786.73 L1347.74,791.96 L1347.55,797.23 L1347.36,802.54 L1347.17,807.89 L1346.99,813.28 L1346.8,818.71 L1346.62,824.18 L1346.44,829.69 L1346.26,835.24 L1346.08,840.84 L1345.9,846.47 L1345.73,852.15 L1345.55,857.87 L1345.38,863.63 L1345.21,869.44 L1345.03,875.28 L1344.86,881.18 L1344.7,887.11 L1344.53,893.09 L1344.36,899.12 L1344.2,905.19 L1344.03,911.3" fill="none" stroke="#000" stroke-width="3.0" stroke-linejoin="round"/>
<text x="80.41" y="87.56" font-size="28" font-family="'Liberation Sans', Arial, sans-serif"  >0</text>
<text x="121.87" y="85.62" font-size="28" font-family="'Liberation Sans', Arial, sans-serif"  >1</text>
<text x="164.63" y="85.54" font-size="28" font-family="'Liberation Sans', Arial, sans-serif"  >5</text>
<text x="209.33" y="85.71" font-size="28" font-family="'Liberation Sans', Arial, sans-serif"  >10</text>
<text x="315.71" y="85.71" font-size="28" font-family="'Liberation Sans', Arial, sans-serif"  >20</text>
<text x="421.91" y="85.71" font-size="28" font-family="'Liberation Sans', Arial, sans-serif"  >30</text>
<text x="528.12" y="85.71" font-size="28" font-family="'Liberation Sans', Arial, sans-serif"  >40</text>
<text x="60.33" y="224.51" font-size="28" font-family="'Liberation Sans', Arial, sans-serif"  >200</text>
<text x="60.33" y="339.81" font-size="28" font-family="'Liberation Sans', Arial, sans-serif"  >400</text>
<text x="60.33" y="455.11" font-size="28" font-family="'Liberation Sans', Arial, sans-serif"  >600</text>
<text x="60.33" y="570.41" font-size="28" font-family="'Liberation Sans', Arial, sans-serif"  >800</text>
<text x="44.75" y="685.71" font-size="28" font-family="'Liberation Sans', Arial, sans-serif"  >1000</text>
<text x="44.75" y="801.01" font-size="28" font-family="'Liberation Sans', Arial, sans-serif"  >1200</text>
<text x="44.75" y="916.31" font-size="28" font-family="'Liberation Sans', Arial, sans-serif"  >1400</text>
<text x="676.49" y="85.12" font-size="27" font-family="'Liberation Sans', Arial, sans-serif"  >0</text>
<text x="718.41" y="85.38" font-size="27" font-family="'Liberation Sans', Arial, sans-serif"  >1</text>
<text x="759.39" y="85.3" font-size="27" font-family="'Liberation Sans', Arial, sans-serif"  >5</text>
<text x="802.18" y="85.47" font-size="27" font-family="'Liberation Sans', Arial, sans-serif"  >10</text>
<text x="904.11" y="85.47" font-size="27" font-family="'Liberation Sans', Arial, sans-serif"  >20</text>
<text x="1005.88" y="85.47" font-size="27" font-family="'Liberation Sans', Arial, sans-serif"  >30</text>
<text x="1107.65" y="85.47" font-size="27" font-family="'Liberation Sans', Arial, sans-serif"  >40</text>
<text x="654.96" y="222.52" font-size="27" font-family="'Liberation Sans', Arial, sans-serif"  >200</text>
<text x="654.96" y="339.07" font-size="27" font-family="'Liberation Sans', Arial, sans-serif"  >400</text>
<text x="654.96" y="455.62" font-size="27" font-family="'Liberation Sans', Arial, sans-serif"  >600</text>
<text x="654.96" y="572.17" font-size="27" font-family="'Liberation Sans', Arial, sans-serif"  >800</text>
<text x="639.94" y="688.72" font-size="27" font-family="'Liberation Sans', Arial, sans-serif"  >1000</text>
<text x="639.94" y="805.27" font-size="27" font-family="'Liberation Sans', Arial, sans-serif"  >1200</text>
<text x="639.94" y="921.82" font-size="27" font-family="'Liberation Sans', Arial, sans-serif"  >1400</text>
<text x="1262.96" y="77.62" font-size="27.3" font-family="'Liberation Sans', Arial, sans-serif"  >0</text>
<text x="1313.31" y="72.38" font-size="27.3" font-family="'Liberation Sans', Arial, sans-serif"  >1</text>
<text x="1436.61" y="72.3" font-size="27.3" font-family="'Liberation Sans', Arial, sans-serif"  >5</text>
<text x="1582.2" y="72.47" font-size="27.3" font-family="'Liberation Sans', Arial, sans-serif"  >10</text>
<text x="1735.99" y="72.3" font-size="27.3" font-family="'Liberation Sans', Arial, sans-serif"  >15</text>
<text x="1248.85" y="260.55" font-size="27.3" font-family="'Liberation Sans', Arial, sans-serif"  >50</text>
<text x="1233.67" y="425.73" font-size="27.3" font-family="'Liberation Sans', Arial, sans-serif"  >100</text>
<text x="1233.67" y="590.91" font-size="27.3" font-family="'Liberation Sans', Arial, sans-serif"  >150</text>
<text x="1233.67" y="756.09" font-size="27.3" font-family="'Liberation Sans', Arial, sans-serif"  >200</text>
<text x="1233.67" y="921.27" font-size="27.3" font-family="'Liberation Sans', Arial, sans-serif"  >250</text>
<text x="17.84" y="29.6" font-size="38.7" font-family="'Liberation Sans', Arial, sans-serif" font-weight="bold" >A</text>
<text x="615.81" y="29.6" font-size="38.7" font-family="'Liberation Sans', Arial, sans-serif" font-weight="bold" >B</text>
<text x="1184.18" y="29.72" font-size="38.7" font-family="'Liberation Sans', Arial, sans-serif" font-weight="bold" >C</text>
<text x="327.53" y="31.5" font-size="28" font-family="'Liberation Sans', Arial, sans-serif"  >K</text>
<text x="346.07" y="39.08" font-size="19" font-family="'Liberation Sans', Arial, sans-serif"  >av</text>
<text x="925.93" y="31.6" font-size="28" font-family="'Liberation Sans', Arial, sans-serif"  >K</text>
<text x="944.27" y="38.48" font-size="19" font-family="'Liberation Sans', Arial, sans-serif"  >av</text>
<text x="1499.12" y="31.2" font-size="28" font-family="'Liberation Sans', Arial, sans-serif"  >K</text>
<text x="1517.37" y="37.98" font-size="19" font-family="'Liberation Sans', Arial, sans-serif"  >av</text>
<text x="23.31" y="575.8" font-size="27.6" font-family="'Liberation Sans', Arial, sans-serif" letter-spacing="0.752" transform="rotate(-90 23.31 575.8)">Depth (m)</text>
<text x="626.33" y="549.53" font-size="27.1" font-family="'Liberation Sans', Arial, sans-serif"  transform="rotate(-90 626.33 549.53)">Depth&#160; (m)</text>
<text x="1213.63" y="556.45" font-size="27.3" font-family="'Liberation Sans', Arial, sans-serif"  transform="rotate(-90 1213.63 556.45)">Depth&#160; (m)</text>
<text x="276.11" y="859.2" font-size="24.5" font-family="'Liberation Serif', 'Times New Roman', serif" font-style="italic" >K</text>
<text x="293.22" y="864.77" font-size="18.5" font-family="'Liberation Serif', 'Times New Roman', serif" font-style="italic" >av</text>
<text x="318.65" y="860.35" font-size="24" font-family="'Liberation Serif', 'Times New Roman', serif"  >=</text>
<text x="337.7" y="843.4" font-size="24" font-family="'Liberation Serif', 'Times New Roman', serif"  >175.85</text>
<line x1="338" y1="852.6" x2="405" y2="852.6" stroke="#000" stroke-width="1.3" />
<text x="363" y="877.94" font-size="24.5" font-family="'Liberation Serif', 'Times New Roman', serif" font-style="italic" >D</text>
<text x="410.2" y="860.35" font-size="24" font-family="'Liberation Serif', 'Times New Roman', serif"  >+</text>
<text x="427.1" y="858.9" font-size="24" font-family="'Liberation Serif', 'Times New Roman', serif"  >1.03</text>
<text x="872.4" y="853.9" font-size="24" font-family="'Liberation Serif', 'Times New Roman', serif" font-style="italic" >K</text>
<text x="889.23" y="859.17" font-size="18.2" font-family="'Liberation Serif', 'Times New Roman', serif" font-style="italic" >av</text>
<text x="912.96" y="855.72" font-size="23.6" font-family="'Liberation Serif', 'Times New Roman', serif"  >=</text>
<text x="931.23" y="839.07" font-size="23.6" font-family="'Liberation Serif', 'Times New Roman', serif"  >170.69</text>
<line x1="932" y1="847.6" x2="997.2" y2="847.6" stroke="#000" stroke-width="1.3" />
<text x="957.22" y="872.83" font-size="24" font-family="'Liberation Serif', 'Times New Roman', serif" font-style="italic" >D</text>
<text x="1002.06" y="855.72" font-size="23.6" font-family="'Liberation Serif', 'Times New Roman', serif"  >+</text>
<text x="1017.83" y="853.61" font-size="23.6" font-family="'Liberation Serif', 'Times New Roman', serif"  >1.02</text>
<text x="1460.92" y="840.6" font-size="26" font-family="'Liberation Serif', 'Times New Roman', serif" font-style="italic" >K</text>
<text x="1479.69" y="847.05" font-size="19.6" font-family="'Liberation Serif', 'Times New Roman', serif" font-style="italic" >av</text>
<text x="1506.95" y="842.48" font-size="25.6" font-family="'Liberation Serif', 'Times New Roman', serif"  >=</text>
<text x="1526.71" y="824.07" font-size="25.6" font-family="'Liberation Serif', 'Times New Roman', serif"  >181.53</text>
<line x1="1526.7" y1="834" x2="1598.2" y2="834" stroke="#000" stroke-width="1.3" />
<text x="1553.88" y="860.83" font-size="26" font-family="'Liberation Serif', 'Times New Roman', serif" font-style="italic" >D</text>
<text x="1603.8" y="842.48" font-size="25.6" font-family="'Liberation Serif', 'Times New Roman', serif"  >+</text>
<text x="1621.56" y="840.28" font-size="25.6" font-family="'Liberation Serif', 'Times New Roman', serif"  >1.07</text>
</svg>
</body></html>
